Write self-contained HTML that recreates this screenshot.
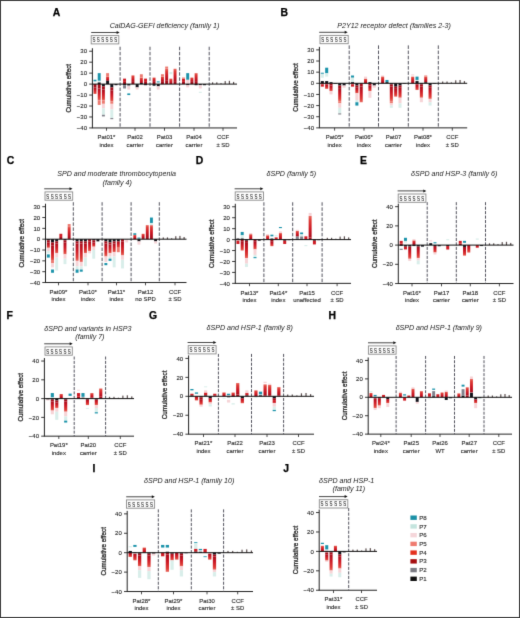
<!DOCTYPE html>
<html><head><meta charset="utf-8"><style>
html,body{margin:0;padding:0;background:#fff;width:520px;height:618px;overflow:hidden;}
svg{position:absolute;left:0;top:0;font-family:"Liberation Sans", sans-serif;will-change:transform;}
</style></head><body>
<svg width="520" height="618" viewBox="0 0 520 618">
<defs>
<filter id="soft" x="0" y="0" width="520" height="618" filterUnits="userSpaceOnUse" color-interpolation-filters="sRGB"><feConvolveMatrix order="3" kernelMatrix="0.01 0.08 0.01 0.08 0.64 0.08 0.01 0.08 0.01" edgeMode="duplicate"/></filter>
<linearGradient id="rdn" x1="0" y1="0" x2="0" y2="1"><stop offset="0" stop-color="#aa0d1c"/><stop offset="0.4" stop-color="#cc1824"/><stop offset="0.8" stop-color="#dd3c36"/><stop offset="1" stop-color="#e96a62"/></linearGradient>
<linearGradient id="rup" x1="0" y1="1" x2="0" y2="0"><stop offset="0" stop-color="#aa0d1c"/><stop offset="0.4" stop-color="#cc1824"/><stop offset="0.8" stop-color="#dd3c36"/><stop offset="1" stop-color="#e96a62"/></linearGradient>
</defs>
<g filter="url(#soft)">
<rect x="0" y="0" width="520" height="618" fill="#fff"/>
<text x="52.80" y="16.20" font-size="10.4" text-anchor="start" fill="#000" style="font-weight:bold;" stroke="#000" stroke-width="0.25">A</text>
<text x="164.50" y="28.00" font-size="7.1" text-anchor="middle" fill="#222" style="font-style:italic;" >CalDAG-GEFI deficiency (family 1)</text>
<line x1="91.2" y1="32.5" x2="117.1" y2="32.5" stroke="#333" stroke-width="0.9"/>
<path d="M116.6,31.0 L119.6,32.5 L116.6,34.0 Z" fill="#111"/>
<rect x="91.2" y="35.60" width="27.60" height="8.30" fill="#fff" stroke="#8a8a8a" stroke-width="0.9"/>
<text transform="translate(92.50,42.20) scale(0.65,1)" font-size="6.8" fill="#333" stroke="#333" stroke-width="0.15">S</text>
<text transform="translate(96.83,42.20) scale(0.65,1)" font-size="6.8" fill="#333" stroke="#333" stroke-width="0.15">S</text>
<text transform="translate(101.16,42.20) scale(0.65,1)" font-size="6.8" fill="#333" stroke="#333" stroke-width="0.15">S</text>
<text transform="translate(105.49,42.20) scale(0.65,1)" font-size="6.8" fill="#333" stroke="#333" stroke-width="0.15">S</text>
<text transform="translate(109.82,42.20) scale(0.65,1)" font-size="6.8" fill="#333" stroke="#333" stroke-width="0.15">S</text>
<text transform="translate(114.15,42.20) scale(0.65,1)" font-size="6.8" fill="#333" stroke="#333" stroke-width="0.15">S</text>
<line x1="92.4" y1="48.22" x2="92.4" y2="127.94" stroke="#222" stroke-width="1"/>
<line x1="89.2" y1="51.22" x2="92.4" y2="51.22" stroke="#222" stroke-width="0.9"/>
<text x="87.00" y="53.37" font-size="6.0" text-anchor="end" fill="#222" style="" stroke="#222" stroke-width="0.1">30</text>
<line x1="89.2" y1="62.18" x2="92.4" y2="62.18" stroke="#222" stroke-width="0.9"/>
<text x="87.00" y="64.33" font-size="6.0" text-anchor="end" fill="#222" style="" stroke="#222" stroke-width="0.1">20</text>
<line x1="89.2" y1="73.14" x2="92.4" y2="73.14" stroke="#222" stroke-width="0.9"/>
<text x="87.00" y="75.29" font-size="6.0" text-anchor="end" fill="#222" style="" stroke="#222" stroke-width="0.1">10</text>
<line x1="89.2" y1="84.10" x2="92.4" y2="84.10" stroke="#222" stroke-width="0.9"/>
<text x="87.00" y="86.25" font-size="6.0" text-anchor="end" fill="#222" style="" stroke="#222" stroke-width="0.1">0</text>
<line x1="89.2" y1="95.06" x2="92.4" y2="95.06" stroke="#222" stroke-width="0.9"/>
<text x="87.00" y="97.21" font-size="6.0" text-anchor="end" fill="#222" style="" stroke="#222" stroke-width="0.1">−10</text>
<line x1="89.2" y1="106.02" x2="92.4" y2="106.02" stroke="#222" stroke-width="0.9"/>
<text x="87.00" y="108.17" font-size="6.0" text-anchor="end" fill="#222" style="" stroke="#222" stroke-width="0.1">−20</text>
<line x1="89.2" y1="116.98" x2="92.4" y2="116.98" stroke="#222" stroke-width="0.9"/>
<text x="87.00" y="119.13" font-size="6.0" text-anchor="end" fill="#222" style="" stroke="#222" stroke-width="0.1">−30</text>
<line x1="89.2" y1="127.94" x2="92.4" y2="127.94" stroke="#222" stroke-width="0.9"/>
<text x="87.00" y="130.09" font-size="6.0" text-anchor="end" fill="#222" style="" stroke="#222" stroke-width="0.1">−40</text>
<text x="0" y="0" font-size="7.2" text-anchor="middle" fill="#222" stroke="#222" stroke-width="0.28" transform="translate(70.90,88.18) rotate(-90)" textLength="48.6" lengthAdjust="spacingAndGlyphs">Cumulative effect</text>
<line x1="91.9" y1="127.94" x2="237" y2="127.94" stroke="#222" stroke-width="1"/>
<line x1="120.1" y1="46.72" x2="120.1" y2="127.94" stroke="#4a4a55" stroke-width="0.95" stroke-dasharray="3.51,1.59"/>
<line x1="150" y1="46.72" x2="150" y2="127.94" stroke="#4a4a55" stroke-width="0.95" stroke-dasharray="3.51,1.59"/>
<line x1="179.6" y1="46.72" x2="179.6" y2="127.94" stroke="#4a4a55" stroke-width="0.95" stroke-dasharray="3.51,1.59"/>
<line x1="209.2" y1="46.72" x2="209.2" y2="127.94" stroke="#4a4a55" stroke-width="0.95" stroke-dasharray="3.51,1.59"/>
<line x1="106.5" y1="127.94" x2="106.5" y2="130.74" stroke="#222" stroke-width="0.8"/>
<text x="106.50" y="139.14" font-size="5.95" text-anchor="middle" fill="#2a2a2a" style="" stroke="#2a2a2a" stroke-width="0.12">Pat01*</text>
<text x="106.50" y="146.74" font-size="5.95" text-anchor="middle" fill="#2a2a2a" style="" stroke="#2a2a2a" stroke-width="0.12">index</text>
<line x1="135" y1="127.94" x2="135" y2="130.74" stroke="#222" stroke-width="0.8"/>
<text x="135.00" y="139.14" font-size="5.95" text-anchor="middle" fill="#2a2a2a" style="" stroke="#2a2a2a" stroke-width="0.12">Pat02</text>
<text x="135.00" y="146.74" font-size="5.95" text-anchor="middle" fill="#2a2a2a" style="" stroke="#2a2a2a" stroke-width="0.12">carrier</text>
<line x1="164.5" y1="127.94" x2="164.5" y2="130.74" stroke="#222" stroke-width="0.8"/>
<text x="164.50" y="139.14" font-size="5.95" text-anchor="middle" fill="#2a2a2a" style="" stroke="#2a2a2a" stroke-width="0.12">Pat03</text>
<text x="164.50" y="146.74" font-size="5.95" text-anchor="middle" fill="#2a2a2a" style="" stroke="#2a2a2a" stroke-width="0.12">carrier</text>
<line x1="194" y1="127.94" x2="194" y2="130.74" stroke="#222" stroke-width="0.8"/>
<text x="194.00" y="139.14" font-size="5.95" text-anchor="middle" fill="#2a2a2a" style="" stroke="#2a2a2a" stroke-width="0.12">Pat04</text>
<text x="194.00" y="146.74" font-size="5.95" text-anchor="middle" fill="#2a2a2a" style="" stroke="#2a2a2a" stroke-width="0.12">carrier</text>
<line x1="223" y1="127.94" x2="223" y2="130.74" stroke="#222" stroke-width="0.8"/>
<text x="223.00" y="139.14" font-size="5.95" text-anchor="middle" fill="#2a2a2a" style="" stroke="#2a2a2a" stroke-width="0.12">CCF</text>
<text x="223.00" y="146.74" font-size="5.95" text-anchor="middle" fill="#2a2a2a" style="" stroke="#2a2a2a" stroke-width="0.12">± SD</text>
<rect x="93.53" y="79.72" width="2.94" height="1.64" fill="#1b93aa"/>
<rect x="93.53" y="84.10" width="2.94" height="3.29" fill="#a50d1a"/>
<rect x="93.53" y="87.39" width="2.94" height="6.58" fill="url(#rdn)"/>
<rect x="97.73" y="73.14" width="2.94" height="7.67" fill="#1b93aa"/>
<rect x="97.73" y="80.81" width="2.94" height="1.64" fill="#d9eeea"/>
<rect x="97.73" y="82.46" width="2.94" height="1.64" fill="#12121a"/>
<rect x="97.73" y="84.10" width="2.94" height="4.38" fill="#a50d1a"/>
<rect x="97.73" y="88.48" width="2.94" height="12.06" fill="url(#rdn)"/>
<rect x="97.73" y="100.54" width="2.94" height="4.38" fill="#ec7a70"/>
<rect x="101.93" y="84.10" width="2.94" height="2.19" fill="#12121a"/>
<rect x="101.93" y="86.29" width="2.94" height="3.29" fill="#a50d1a"/>
<rect x="101.93" y="89.58" width="2.94" height="10.96" fill="url(#rdn)"/>
<rect x="101.93" y="100.54" width="2.94" height="3.29" fill="#ec7a70"/>
<rect x="101.93" y="103.83" width="2.94" height="4.38" fill="#f6d4d7"/>
<rect x="101.93" y="108.21" width="2.94" height="6.58" fill="#d9eeea"/>
<rect x="101.93" y="114.79" width="2.94" height="1.64" fill="#80808a"/>
<rect x="106.13" y="73.14" width="2.94" height="3.29" fill="#ec7a70"/>
<rect x="106.13" y="76.43" width="2.94" height="4.38" fill="url(#rup)"/>
<rect x="106.13" y="80.81" width="2.94" height="3.29" fill="#12121a"/>
<rect x="110.33" y="84.10" width="2.94" height="3.29" fill="#12121a"/>
<rect x="110.33" y="87.39" width="2.94" height="3.29" fill="#a50d1a"/>
<rect x="110.33" y="90.68" width="2.94" height="10.96" fill="url(#rdn)"/>
<rect x="110.33" y="101.64" width="2.94" height="2.19" fill="#ec7a70"/>
<rect x="110.33" y="103.83" width="2.94" height="5.48" fill="#f6d4d7"/>
<rect x="110.33" y="109.31" width="2.94" height="8.77" fill="#d9eeea"/>
<rect x="110.33" y="118.08" width="2.94" height="1.10" fill="#80808a"/>
<rect x="114.53" y="84.10" width="2.94" height="1.10" fill="#12121a"/>
<rect x="123.08" y="81.91" width="2.94" height="2.19" fill="#a50d1a"/>
<rect x="123.08" y="78.62" width="2.94" height="3.29" fill="#cf1b24"/>
<rect x="123.08" y="84.10" width="2.94" height="1.10" fill="#12121a"/>
<rect x="123.08" y="85.20" width="2.94" height="3.29" fill="#80808a"/>
<rect x="127.28" y="84.10" width="2.94" height="1.10" fill="#12121a"/>
<rect x="127.28" y="85.20" width="2.94" height="1.10" fill="#80808a"/>
<rect x="127.28" y="86.29" width="2.94" height="3.29" fill="#f6d4d7"/>
<rect x="127.28" y="93.42" width="2.94" height="1.64" fill="#1b93aa"/>
<rect x="131.48" y="81.91" width="2.94" height="2.19" fill="#a50d1a"/>
<rect x="131.48" y="75.33" width="2.94" height="6.58" fill="url(#rup)"/>
<rect x="135.68" y="84.10" width="2.94" height="3.29" fill="#12121a"/>
<rect x="135.68" y="87.39" width="2.94" height="2.19" fill="#f6d4d7"/>
<rect x="139.88" y="83.00" width="2.94" height="1.10" fill="#12121a"/>
<rect x="139.88" y="77.52" width="2.94" height="5.48" fill="url(#rup)"/>
<rect x="139.88" y="74.24" width="2.94" height="3.29" fill="#ec7a70"/>
<rect x="144.08" y="81.91" width="2.94" height="2.19" fill="#a50d1a"/>
<rect x="144.08" y="78.62" width="2.94" height="3.29" fill="#cf1b24"/>
<rect x="144.08" y="84.10" width="2.94" height="1.10" fill="#12121a"/>
<rect x="152.58" y="81.91" width="2.94" height="2.19" fill="#a50d1a"/>
<rect x="152.58" y="77.52" width="2.94" height="4.38" fill="url(#rup)"/>
<rect x="152.58" y="84.10" width="2.94" height="1.64" fill="#12121a"/>
<rect x="156.78" y="81.36" width="2.94" height="1.10" fill="#1b93aa"/>
<rect x="156.78" y="84.10" width="2.94" height="2.19" fill="#12121a"/>
<rect x="156.78" y="86.29" width="2.94" height="3.29" fill="#f6d4d7"/>
<rect x="160.98" y="81.91" width="2.94" height="2.19" fill="#a50d1a"/>
<rect x="160.98" y="76.43" width="2.94" height="5.48" fill="url(#rup)"/>
<rect x="160.98" y="74.24" width="2.94" height="2.19" fill="#ec7a70"/>
<rect x="165.18" y="80.81" width="2.94" height="3.29" fill="#a50d1a"/>
<rect x="165.18" y="68.76" width="2.94" height="12.06" fill="url(#rup)"/>
<rect x="165.18" y="66.56" width="2.94" height="2.19" fill="#ec7a70"/>
<rect x="169.38" y="78.62" width="2.94" height="5.48" fill="url(#rup)"/>
<rect x="169.38" y="72.04" width="2.94" height="2.19" fill="#d9eeea"/>
<rect x="173.58" y="81.91" width="2.94" height="2.19" fill="#a50d1a"/>
<rect x="173.58" y="68.76" width="2.94" height="13.15" fill="url(#rup)"/>
<rect x="182.03" y="81.91" width="2.94" height="2.19" fill="#a50d1a"/>
<rect x="182.03" y="78.62" width="2.94" height="3.29" fill="#cf1b24"/>
<rect x="182.03" y="77.52" width="2.94" height="1.10" fill="#ec7a70"/>
<rect x="186.23" y="79.72" width="2.94" height="4.38" fill="#f6d4d7"/>
<rect x="186.23" y="73.14" width="2.94" height="6.58" fill="#1b93aa"/>
<rect x="186.23" y="84.10" width="2.94" height="1.10" fill="#12121a"/>
<rect x="186.23" y="85.20" width="2.94" height="2.19" fill="#f6d4d7"/>
<rect x="190.43" y="81.91" width="2.94" height="2.19" fill="#a50d1a"/>
<rect x="190.43" y="77.52" width="2.94" height="4.38" fill="url(#rup)"/>
<rect x="194.63" y="81.91" width="2.94" height="2.19" fill="#a50d1a"/>
<rect x="194.63" y="73.14" width="2.94" height="8.77" fill="url(#rup)"/>
<rect x="194.63" y="84.10" width="2.94" height="1.10" fill="#12121a"/>
<rect x="198.83" y="84.10" width="2.94" height="1.10" fill="#12121a"/>
<rect x="198.83" y="85.20" width="2.94" height="3.29" fill="#f6d4d7"/>
<rect x="198.83" y="91.77" width="2.94" height="1.10" fill="#d9eeea"/>
<rect x="203.03" y="84.10" width="2.94" height="1.10" fill="#12121a"/>
<rect x="212.00" y="82.30" width="1.2" height="1.80" fill="#5e5050"/>
<rect x="216.20" y="82.30" width="1.2" height="1.80" fill="#5e5050"/>
<rect x="220.40" y="83.20" width="1.2" height="0.90" fill="#5e5050"/>
<rect x="224.60" y="81.10" width="1.2" height="3.00" fill="#5e5050"/>
<rect x="228.80" y="80.80" width="1.2" height="3.30" fill="#5e5050"/>
<rect x="233.00" y="81.90" width="1.2" height="2.20" fill="#5e5050"/>
<line x1="92.4" y1="84.10" x2="237" y2="84.10" stroke="#111" stroke-width="1"/>
<text x="280.60" y="16.00" font-size="10.4" text-anchor="start" fill="#000" style="font-weight:bold;" stroke="#000" stroke-width="0.25">B</text>
<text x="394.00" y="28.00" font-size="7.1" text-anchor="middle" fill="#222" style="font-style:italic;" >P2Y12 receptor defect (families 2-3)</text>
<line x1="319.2" y1="32.3" x2="345.2" y2="32.3" stroke="#333" stroke-width="0.9"/>
<path d="M344.7,30.799999999999997 L347.7,32.3 L344.7,33.8 Z" fill="#111"/>
<rect x="320" y="35.40" width="28.20" height="8.30" fill="#fff" stroke="#8a8a8a" stroke-width="0.9"/>
<text transform="translate(321.30,42.00) scale(0.65,1)" font-size="6.8" fill="#333" stroke="#333" stroke-width="0.15">S</text>
<text transform="translate(325.75,42.00) scale(0.65,1)" font-size="6.8" fill="#333" stroke="#333" stroke-width="0.15">S</text>
<text transform="translate(330.20,42.00) scale(0.65,1)" font-size="6.8" fill="#333" stroke="#333" stroke-width="0.15">S</text>
<text transform="translate(334.65,42.00) scale(0.65,1)" font-size="6.8" fill="#333" stroke="#333" stroke-width="0.15">S</text>
<text transform="translate(339.10,42.00) scale(0.65,1)" font-size="6.8" fill="#333" stroke="#333" stroke-width="0.15">S</text>
<text transform="translate(343.55,42.00) scale(0.65,1)" font-size="6.8" fill="#333" stroke="#333" stroke-width="0.15">S</text>
<line x1="319.4" y1="46.88" x2="319.4" y2="127.86" stroke="#222" stroke-width="1"/>
<line x1="316.2" y1="49.88" x2="319.4" y2="49.88" stroke="#222" stroke-width="0.9"/>
<text x="314.00" y="52.03" font-size="6.0" text-anchor="end" fill="#222" style="" stroke="#222" stroke-width="0.1">30</text>
<line x1="316.2" y1="61.02" x2="319.4" y2="61.02" stroke="#222" stroke-width="0.9"/>
<text x="314.00" y="63.17" font-size="6.0" text-anchor="end" fill="#222" style="" stroke="#222" stroke-width="0.1">20</text>
<line x1="316.2" y1="72.16" x2="319.4" y2="72.16" stroke="#222" stroke-width="0.9"/>
<text x="314.00" y="74.31" font-size="6.0" text-anchor="end" fill="#222" style="" stroke="#222" stroke-width="0.1">10</text>
<line x1="316.2" y1="83.30" x2="319.4" y2="83.30" stroke="#222" stroke-width="0.9"/>
<text x="314.00" y="85.45" font-size="6.0" text-anchor="end" fill="#222" style="" stroke="#222" stroke-width="0.1">0</text>
<line x1="316.2" y1="94.44" x2="319.4" y2="94.44" stroke="#222" stroke-width="0.9"/>
<text x="314.00" y="96.59" font-size="6.0" text-anchor="end" fill="#222" style="" stroke="#222" stroke-width="0.1">−10</text>
<line x1="316.2" y1="105.58" x2="319.4" y2="105.58" stroke="#222" stroke-width="0.9"/>
<text x="314.00" y="107.73" font-size="6.0" text-anchor="end" fill="#222" style="" stroke="#222" stroke-width="0.1">−20</text>
<line x1="316.2" y1="116.72" x2="319.4" y2="116.72" stroke="#222" stroke-width="0.9"/>
<text x="314.00" y="118.87" font-size="6.0" text-anchor="end" fill="#222" style="" stroke="#222" stroke-width="0.1">−30</text>
<line x1="316.2" y1="127.86" x2="319.4" y2="127.86" stroke="#222" stroke-width="0.9"/>
<text x="314.00" y="130.01" font-size="6.0" text-anchor="end" fill="#222" style="" stroke="#222" stroke-width="0.1">−40</text>
<text x="0" y="0" font-size="7.2" text-anchor="middle" fill="#222" stroke="#222" stroke-width="0.28" transform="translate(297.90,87.47) rotate(-90)" textLength="48.6" lengthAdjust="spacingAndGlyphs">Cumulative effect</text>
<line x1="318.9" y1="127.86" x2="467.2" y2="127.86" stroke="#222" stroke-width="1"/>
<line x1="349.2" y1="45.38" x2="349.2" y2="127.86" stroke="#4a4a55" stroke-width="0.95" stroke-dasharray="3.56,1.62"/>
<line x1="378.5" y1="45.38" x2="378.5" y2="127.86" stroke="#4a4a55" stroke-width="0.95" stroke-dasharray="3.56,1.62"/>
<line x1="408.3" y1="45.38" x2="408.3" y2="127.86" stroke="#4a4a55" stroke-width="0.95" stroke-dasharray="3.56,1.62"/>
<line x1="438.3" y1="45.38" x2="438.3" y2="127.86" stroke="#4a4a55" stroke-width="0.95" stroke-dasharray="3.56,1.62"/>
<line x1="334.6" y1="127.86" x2="334.6" y2="130.66" stroke="#222" stroke-width="0.8"/>
<text x="334.60" y="139.06" font-size="5.95" text-anchor="middle" fill="#2a2a2a" style="" stroke="#2a2a2a" stroke-width="0.12">Pat05*</text>
<text x="334.60" y="146.66" font-size="5.95" text-anchor="middle" fill="#2a2a2a" style="" stroke="#2a2a2a" stroke-width="0.12">index</text>
<line x1="364" y1="127.86" x2="364" y2="130.66" stroke="#222" stroke-width="0.8"/>
<text x="364.00" y="139.06" font-size="5.95" text-anchor="middle" fill="#2a2a2a" style="" stroke="#2a2a2a" stroke-width="0.12">Pat06*</text>
<text x="364.00" y="146.66" font-size="5.95" text-anchor="middle" fill="#2a2a2a" style="" stroke="#2a2a2a" stroke-width="0.12">index</text>
<line x1="393.5" y1="127.86" x2="393.5" y2="130.66" stroke="#222" stroke-width="0.8"/>
<text x="393.50" y="139.06" font-size="5.95" text-anchor="middle" fill="#2a2a2a" style="" stroke="#2a2a2a" stroke-width="0.12">Pat07</text>
<text x="393.50" y="146.66" font-size="5.95" text-anchor="middle" fill="#2a2a2a" style="" stroke="#2a2a2a" stroke-width="0.12">carrier</text>
<line x1="423" y1="127.86" x2="423" y2="130.66" stroke="#222" stroke-width="0.8"/>
<text x="423.00" y="139.06" font-size="5.95" text-anchor="middle" fill="#2a2a2a" style="" stroke="#2a2a2a" stroke-width="0.12">Pat08*</text>
<text x="423.00" y="146.66" font-size="5.95" text-anchor="middle" fill="#2a2a2a" style="" stroke="#2a2a2a" stroke-width="0.12">index</text>
<line x1="452.3" y1="127.86" x2="452.3" y2="130.66" stroke="#222" stroke-width="0.8"/>
<text x="452.30" y="139.06" font-size="5.95" text-anchor="middle" fill="#2a2a2a" style="" stroke="#2a2a2a" stroke-width="0.12">CCF</text>
<text x="452.30" y="146.66" font-size="5.95" text-anchor="middle" fill="#2a2a2a" style="" stroke="#2a2a2a" stroke-width="0.12">± SD</text>
<rect x="320.81" y="72.72" width="3.04" height="1.11" fill="#1b93aa"/>
<rect x="320.81" y="73.83" width="3.04" height="3.90" fill="#d9eeea"/>
<rect x="320.81" y="81.07" width="3.04" height="2.23" fill="#12121a"/>
<rect x="320.81" y="83.30" width="3.04" height="1.11" fill="#a50d1a"/>
<rect x="320.81" y="84.41" width="3.04" height="2.23" fill="#cf1b24"/>
<rect x="325.16" y="67.70" width="3.04" height="5.57" fill="#1b93aa"/>
<rect x="325.16" y="73.27" width="3.04" height="3.34" fill="#d9eeea"/>
<rect x="325.16" y="81.07" width="3.04" height="2.23" fill="#12121a"/>
<rect x="325.16" y="83.30" width="3.04" height="1.11" fill="#a50d1a"/>
<rect x="325.16" y="84.41" width="3.04" height="4.46" fill="url(#rdn)"/>
<rect x="329.50" y="82.19" width="3.04" height="1.11" fill="#12121a"/>
<rect x="329.50" y="83.30" width="3.04" height="2.23" fill="#a50d1a"/>
<rect x="329.50" y="85.53" width="3.04" height="5.57" fill="url(#rdn)"/>
<rect x="329.50" y="91.10" width="3.04" height="3.34" fill="#f6d4d7"/>
<rect x="333.86" y="83.30" width="3.04" height="0.56" fill="#12121a"/>
<rect x="338.20" y="83.30" width="3.04" height="2.23" fill="#12121a"/>
<rect x="338.20" y="85.53" width="3.04" height="3.34" fill="#a50d1a"/>
<rect x="338.20" y="88.87" width="3.04" height="12.25" fill="url(#rdn)"/>
<rect x="338.20" y="101.12" width="3.04" height="2.23" fill="#ec7a70"/>
<rect x="338.20" y="103.35" width="3.04" height="4.46" fill="#f6d4d7"/>
<rect x="338.20" y="107.81" width="3.04" height="5.57" fill="#d9eeea"/>
<rect x="338.20" y="113.38" width="3.04" height="1.11" fill="#80808a"/>
<rect x="342.56" y="83.30" width="3.04" height="2.23" fill="#12121a"/>
<rect x="342.56" y="85.53" width="3.04" height="2.23" fill="#f6d4d7"/>
<rect x="351.00" y="75.50" width="3.04" height="2.23" fill="#1b93aa"/>
<rect x="351.00" y="77.73" width="3.04" height="4.46" fill="#d9eeea"/>
<rect x="351.00" y="82.19" width="3.04" height="1.11" fill="#12121a"/>
<rect x="351.00" y="83.30" width="3.04" height="1.11" fill="#a50d1a"/>
<rect x="351.00" y="84.41" width="3.04" height="2.23" fill="#cf1b24"/>
<rect x="355.36" y="83.30" width="3.04" height="2.23" fill="#12121a"/>
<rect x="355.36" y="85.53" width="3.04" height="2.23" fill="#a50d1a"/>
<rect x="355.36" y="87.76" width="3.04" height="5.57" fill="url(#rdn)"/>
<rect x="355.36" y="93.33" width="3.04" height="6.68" fill="#f6d4d7"/>
<rect x="355.36" y="100.01" width="3.04" height="2.23" fill="#d9eeea"/>
<rect x="355.36" y="102.24" width="3.04" height="3.34" fill="#1b93aa"/>
<rect x="359.70" y="83.30" width="3.04" height="3.34" fill="#a50d1a"/>
<rect x="359.70" y="86.64" width="3.04" height="15.60" fill="url(#rdn)"/>
<rect x="364.06" y="76.62" width="3.04" height="2.23" fill="#f6d4d7"/>
<rect x="364.06" y="78.84" width="3.04" height="4.46" fill="url(#rup)"/>
<rect x="368.40" y="82.19" width="3.04" height="1.11" fill="#12121a"/>
<rect x="368.40" y="83.30" width="3.04" height="2.23" fill="#a50d1a"/>
<rect x="368.40" y="85.53" width="3.04" height="5.57" fill="url(#rdn)"/>
<rect x="368.40" y="91.10" width="3.04" height="6.68" fill="#f6d4d7"/>
<rect x="372.75" y="83.30" width="3.04" height="2.23" fill="#12121a"/>
<rect x="372.75" y="85.53" width="3.04" height="2.23" fill="#f6d4d7"/>
<rect x="381.11" y="75.50" width="3.04" height="1.11" fill="#f6d4d7"/>
<rect x="381.11" y="76.62" width="3.04" height="6.68" fill="url(#rup)"/>
<rect x="385.46" y="79.96" width="3.04" height="2.23" fill="#1b93aa"/>
<rect x="385.46" y="82.19" width="3.04" height="1.11" fill="#12121a"/>
<rect x="389.81" y="83.30" width="3.04" height="1.11" fill="#12121a"/>
<rect x="389.81" y="84.41" width="3.04" height="2.23" fill="#a50d1a"/>
<rect x="389.81" y="86.64" width="3.04" height="14.48" fill="url(#rdn)"/>
<rect x="389.81" y="101.12" width="3.04" height="2.23" fill="#ec7a70"/>
<rect x="389.81" y="103.35" width="3.04" height="2.23" fill="#f6d4d7"/>
<rect x="389.81" y="105.58" width="3.04" height="2.23" fill="#d9eeea"/>
<rect x="394.16" y="83.30" width="3.04" height="3.34" fill="#12121a"/>
<rect x="394.16" y="86.64" width="3.04" height="2.23" fill="#a50d1a"/>
<rect x="394.16" y="88.87" width="3.04" height="7.80" fill="url(#rdn)"/>
<rect x="398.50" y="83.30" width="3.04" height="2.23" fill="#12121a"/>
<rect x="398.50" y="85.53" width="3.04" height="2.23" fill="#a50d1a"/>
<rect x="398.50" y="87.76" width="3.04" height="10.03" fill="url(#rdn)"/>
<rect x="398.50" y="97.78" width="3.04" height="5.57" fill="#f6d4d7"/>
<rect x="398.50" y="103.35" width="3.04" height="4.46" fill="#d9eeea"/>
<rect x="402.86" y="83.30" width="3.04" height="0.56" fill="#12121a"/>
<rect x="411.16" y="74.39" width="3.04" height="1.11" fill="#f6d4d7"/>
<rect x="411.16" y="76.62" width="3.04" height="6.68" fill="url(#rup)"/>
<rect x="415.51" y="76.62" width="3.04" height="3.34" fill="#1b93aa"/>
<rect x="415.51" y="79.96" width="3.04" height="1.11" fill="#d9eeea"/>
<rect x="415.51" y="81.07" width="3.04" height="2.23" fill="#12121a"/>
<rect x="415.51" y="83.30" width="3.04" height="1.11" fill="#a50d1a"/>
<rect x="415.51" y="84.41" width="3.04" height="5.57" fill="url(#rdn)"/>
<rect x="419.86" y="83.30" width="3.04" height="1.11" fill="#12121a"/>
<rect x="419.86" y="84.41" width="3.04" height="2.23" fill="#a50d1a"/>
<rect x="419.86" y="86.64" width="3.04" height="11.14" fill="url(#rdn)"/>
<rect x="419.86" y="97.78" width="3.04" height="4.46" fill="#f6d4d7"/>
<rect x="424.21" y="82.19" width="3.04" height="1.11" fill="#12121a"/>
<rect x="424.21" y="76.62" width="3.04" height="5.57" fill="url(#rup)"/>
<rect x="424.21" y="75.50" width="3.04" height="1.11" fill="#ec7a70"/>
<rect x="428.56" y="83.30" width="3.04" height="2.23" fill="#12121a"/>
<rect x="428.56" y="85.53" width="3.04" height="2.23" fill="#a50d1a"/>
<rect x="428.56" y="87.76" width="3.04" height="11.14" fill="url(#rdn)"/>
<rect x="428.56" y="98.90" width="3.04" height="3.34" fill="#f6d4d7"/>
<rect x="428.56" y="102.24" width="3.04" height="3.34" fill="#d9eeea"/>
<rect x="432.91" y="83.30" width="3.04" height="0.56" fill="#12121a"/>
<rect x="442.07" y="81.50" width="1.2" height="1.80" fill="#5e5050"/>
<rect x="446.43" y="81.50" width="1.2" height="1.80" fill="#5e5050"/>
<rect x="450.77" y="82.40" width="1.2" height="0.90" fill="#5e5050"/>
<rect x="455.12" y="80.30" width="1.2" height="3.00" fill="#5e5050"/>
<rect x="459.47" y="80.00" width="1.2" height="3.30" fill="#5e5050"/>
<rect x="463.82" y="81.10" width="1.2" height="2.20" fill="#5e5050"/>
<line x1="319.4" y1="83.30" x2="467.2" y2="83.30" stroke="#111" stroke-width="1"/>
<text x="6.70" y="163.50" font-size="10.4" text-anchor="start" fill="#000" style="font-weight:bold;" stroke="#000" stroke-width="0.25">C</text>
<text x="116.60" y="175.80" font-size="7.1" text-anchor="middle" fill="#222" style="font-style:italic;" >SPD and moderate thrombocytopenia</text>
<text x="117.20" y="185.00" font-size="7.1" text-anchor="middle" fill="#222" style="font-style:italic;" >(family 4)</text>
<line x1="44.2" y1="188.8" x2="70.0" y2="188.8" stroke="#333" stroke-width="0.9"/>
<path d="M69.5,187.3 L72.5,188.8 L69.5,190.3 Z" fill="#111"/>
<rect x="45" y="191.90" width="27.70" height="8.30" fill="#fff" stroke="#8a8a8a" stroke-width="0.9"/>
<text transform="translate(46.30,198.50) scale(0.65,1)" font-size="6.8" fill="#333" stroke="#333" stroke-width="0.15">S</text>
<text transform="translate(50.65,198.50) scale(0.65,1)" font-size="6.8" fill="#333" stroke="#333" stroke-width="0.15">S</text>
<text transform="translate(55.00,198.50) scale(0.65,1)" font-size="6.8" fill="#333" stroke="#333" stroke-width="0.15">S</text>
<text transform="translate(59.35,198.50) scale(0.65,1)" font-size="6.8" fill="#333" stroke="#333" stroke-width="0.15">S</text>
<text transform="translate(63.70,198.50) scale(0.65,1)" font-size="6.8" fill="#333" stroke="#333" stroke-width="0.15">S</text>
<text transform="translate(68.05,198.50) scale(0.65,1)" font-size="6.8" fill="#333" stroke="#333" stroke-width="0.15">S</text>
<line x1="45.5" y1="203.71" x2="45.5" y2="282.52" stroke="#222" stroke-width="1"/>
<line x1="42.3" y1="206.71" x2="45.5" y2="206.71" stroke="#222" stroke-width="0.9"/>
<text x="40.10" y="208.86" font-size="6.0" text-anchor="end" fill="#222" style="" stroke="#222" stroke-width="0.1">30</text>
<line x1="42.3" y1="217.54" x2="45.5" y2="217.54" stroke="#222" stroke-width="0.9"/>
<text x="40.10" y="219.69" font-size="6.0" text-anchor="end" fill="#222" style="" stroke="#222" stroke-width="0.1">20</text>
<line x1="42.3" y1="228.37" x2="45.5" y2="228.37" stroke="#222" stroke-width="0.9"/>
<text x="40.10" y="230.52" font-size="6.0" text-anchor="end" fill="#222" style="" stroke="#222" stroke-width="0.1">10</text>
<line x1="42.3" y1="239.20" x2="45.5" y2="239.20" stroke="#222" stroke-width="0.9"/>
<text x="40.10" y="241.35" font-size="6.0" text-anchor="end" fill="#222" style="" stroke="#222" stroke-width="0.1">0</text>
<line x1="42.3" y1="250.03" x2="45.5" y2="250.03" stroke="#222" stroke-width="0.9"/>
<text x="40.10" y="252.18" font-size="6.0" text-anchor="end" fill="#222" style="" stroke="#222" stroke-width="0.1">−10</text>
<line x1="42.3" y1="260.86" x2="45.5" y2="260.86" stroke="#222" stroke-width="0.9"/>
<text x="40.10" y="263.01" font-size="6.0" text-anchor="end" fill="#222" style="" stroke="#222" stroke-width="0.1">−20</text>
<line x1="42.3" y1="271.69" x2="45.5" y2="271.69" stroke="#222" stroke-width="0.9"/>
<text x="40.10" y="273.84" font-size="6.0" text-anchor="end" fill="#222" style="" stroke="#222" stroke-width="0.1">−30</text>
<line x1="42.3" y1="282.52" x2="45.5" y2="282.52" stroke="#222" stroke-width="0.9"/>
<text x="40.10" y="284.67" font-size="6.0" text-anchor="end" fill="#222" style="" stroke="#222" stroke-width="0.1">−40</text>
<text x="0" y="0" font-size="7.2" text-anchor="middle" fill="#222" stroke="#222" stroke-width="0.28" transform="translate(24.00,243.21) rotate(-90)" textLength="48.6" lengthAdjust="spacingAndGlyphs">Cumulative effect</text>
<line x1="45.0" y1="282.52" x2="186.5" y2="282.52" stroke="#222" stroke-width="1"/>
<line x1="73.3" y1="202.21" x2="73.3" y2="282.52" stroke="#4a4a55" stroke-width="0.95" stroke-dasharray="3.47,1.57"/>
<line x1="102.1" y1="202.21" x2="102.1" y2="282.52" stroke="#4a4a55" stroke-width="0.95" stroke-dasharray="3.47,1.57"/>
<line x1="131.1" y1="202.21" x2="131.1" y2="282.52" stroke="#4a4a55" stroke-width="0.95" stroke-dasharray="3.47,1.57"/>
<line x1="159.3" y1="202.21" x2="159.3" y2="282.52" stroke="#4a4a55" stroke-width="0.95" stroke-dasharray="3.47,1.57"/>
<line x1="58.5" y1="282.52" x2="58.5" y2="285.32" stroke="#222" stroke-width="0.8"/>
<text x="58.50" y="293.72" font-size="5.95" text-anchor="middle" fill="#2a2a2a" style="" stroke="#2a2a2a" stroke-width="0.12">Pat09*</text>
<text x="58.50" y="301.32" font-size="5.95" text-anchor="middle" fill="#2a2a2a" style="" stroke="#2a2a2a" stroke-width="0.12">index</text>
<line x1="88" y1="282.52" x2="88" y2="285.32" stroke="#222" stroke-width="0.8"/>
<text x="88.00" y="293.72" font-size="5.95" text-anchor="middle" fill="#2a2a2a" style="" stroke="#2a2a2a" stroke-width="0.12">Pat10*</text>
<text x="88.00" y="301.32" font-size="5.95" text-anchor="middle" fill="#2a2a2a" style="" stroke="#2a2a2a" stroke-width="0.12">index</text>
<line x1="116.5" y1="282.52" x2="116.5" y2="285.32" stroke="#222" stroke-width="0.8"/>
<text x="116.50" y="293.72" font-size="5.95" text-anchor="middle" fill="#2a2a2a" style="" stroke="#2a2a2a" stroke-width="0.12">Pat11*</text>
<text x="116.50" y="301.32" font-size="5.95" text-anchor="middle" fill="#2a2a2a" style="" stroke="#2a2a2a" stroke-width="0.12">index</text>
<line x1="145.5" y1="282.52" x2="145.5" y2="285.32" stroke="#222" stroke-width="0.8"/>
<text x="145.50" y="293.72" font-size="5.95" text-anchor="middle" fill="#2a2a2a" style="" stroke="#2a2a2a" stroke-width="0.12">Pat12</text>
<text x="145.50" y="301.32" font-size="5.95" text-anchor="middle" fill="#2a2a2a" style="" stroke="#2a2a2a" stroke-width="0.12">no SPD</text>
<line x1="175" y1="282.52" x2="175" y2="285.32" stroke="#222" stroke-width="0.8"/>
<text x="175.00" y="293.72" font-size="5.95" text-anchor="middle" fill="#2a2a2a" style="" stroke="#2a2a2a" stroke-width="0.12">CCF</text>
<text x="175.00" y="301.32" font-size="5.95" text-anchor="middle" fill="#2a2a2a" style="" stroke="#2a2a2a" stroke-width="0.12">± SD</text>
<rect x="46.90" y="239.20" width="2.91" height="1.08" fill="#12121a"/>
<rect x="46.90" y="240.28" width="2.91" height="2.17" fill="#a50d1a"/>
<rect x="46.90" y="242.45" width="2.91" height="5.41" fill="url(#rdn)"/>
<rect x="46.90" y="247.86" width="2.91" height="3.25" fill="#f6d4d7"/>
<rect x="46.90" y="251.11" width="2.91" height="2.17" fill="#d9eeea"/>
<rect x="46.90" y="254.36" width="2.91" height="3.25" fill="#1b93aa"/>
<rect x="51.05" y="239.20" width="2.91" height="3.25" fill="#12121a"/>
<rect x="51.05" y="242.45" width="2.91" height="3.25" fill="#a50d1a"/>
<rect x="51.05" y="245.70" width="2.91" height="15.16" fill="url(#rdn)"/>
<rect x="51.05" y="260.86" width="2.91" height="2.17" fill="#ec7a70"/>
<rect x="51.05" y="263.03" width="2.91" height="4.33" fill="#f6d4d7"/>
<rect x="51.05" y="269.52" width="2.91" height="3.25" fill="#1b93aa"/>
<rect x="55.22" y="239.20" width="2.91" height="2.17" fill="#12121a"/>
<rect x="55.22" y="241.37" width="2.91" height="2.17" fill="#a50d1a"/>
<rect x="55.22" y="243.53" width="2.91" height="9.75" fill="url(#rdn)"/>
<rect x="55.22" y="253.28" width="2.91" height="4.33" fill="#f6d4d7"/>
<rect x="55.22" y="257.61" width="2.91" height="13.00" fill="#d9eeea"/>
<rect x="59.38" y="237.03" width="2.91" height="2.17" fill="#a50d1a"/>
<rect x="59.38" y="233.78" width="2.91" height="3.25" fill="#cf1b24"/>
<rect x="63.53" y="239.20" width="2.91" height="1.08" fill="#12121a"/>
<rect x="63.53" y="240.28" width="2.91" height="2.17" fill="#a50d1a"/>
<rect x="63.53" y="242.45" width="2.91" height="11.91" fill="url(#rdn)"/>
<rect x="63.53" y="254.36" width="2.91" height="4.33" fill="#f6d4d7"/>
<rect x="63.53" y="258.69" width="2.91" height="5.42" fill="#d9eeea"/>
<rect x="67.70" y="238.12" width="2.91" height="1.08" fill="#a50d1a"/>
<rect x="67.70" y="226.20" width="2.91" height="11.91" fill="url(#rup)"/>
<rect x="67.70" y="224.04" width="2.91" height="2.17" fill="#ec7a70"/>
<rect x="75.64" y="239.20" width="2.91" height="2.17" fill="#12121a"/>
<rect x="75.64" y="241.37" width="2.91" height="2.17" fill="#a50d1a"/>
<rect x="75.64" y="243.53" width="2.91" height="17.33" fill="url(#rdn)"/>
<rect x="75.64" y="260.86" width="2.91" height="5.41" fill="#f6d4d7"/>
<rect x="75.64" y="266.27" width="2.91" height="3.25" fill="#d9eeea"/>
<rect x="75.64" y="269.52" width="2.91" height="3.25" fill="#1b93aa"/>
<rect x="79.81" y="239.20" width="2.91" height="2.17" fill="#12121a"/>
<rect x="79.81" y="241.37" width="2.91" height="2.17" fill="#a50d1a"/>
<rect x="79.81" y="243.53" width="2.91" height="18.41" fill="url(#rdn)"/>
<rect x="79.81" y="261.94" width="2.91" height="4.33" fill="#f6d4d7"/>
<rect x="79.81" y="266.27" width="2.91" height="3.25" fill="#d9eeea"/>
<rect x="79.81" y="269.52" width="2.91" height="2.17" fill="#1b93aa"/>
<rect x="83.97" y="239.20" width="2.91" height="2.17" fill="#12121a"/>
<rect x="83.97" y="241.37" width="2.91" height="2.17" fill="#a50d1a"/>
<rect x="83.97" y="243.53" width="2.91" height="9.75" fill="url(#rdn)"/>
<rect x="83.97" y="253.28" width="2.91" height="4.33" fill="#f6d4d7"/>
<rect x="83.97" y="257.61" width="2.91" height="8.66" fill="#d9eeea"/>
<rect x="88.12" y="239.20" width="2.91" height="2.17" fill="#a50d1a"/>
<rect x="88.12" y="241.37" width="2.91" height="9.75" fill="url(#rdn)"/>
<rect x="88.12" y="251.11" width="2.91" height="2.17" fill="#f6d4d7"/>
<rect x="92.28" y="239.20" width="2.91" height="1.08" fill="#12121a"/>
<rect x="92.28" y="240.28" width="2.91" height="2.17" fill="#a50d1a"/>
<rect x="92.28" y="242.45" width="2.91" height="4.33" fill="url(#rdn)"/>
<rect x="92.28" y="246.78" width="2.91" height="3.25" fill="#f6d4d7"/>
<rect x="92.28" y="250.03" width="2.91" height="8.66" fill="#d9eeea"/>
<rect x="96.45" y="239.20" width="2.91" height="2.17" fill="#12121a"/>
<rect x="104.39" y="239.20" width="2.91" height="2.17" fill="#12121a"/>
<rect x="104.39" y="241.37" width="2.91" height="2.17" fill="#a50d1a"/>
<rect x="104.39" y="243.53" width="2.91" height="13.00" fill="url(#rdn)"/>
<rect x="104.39" y="256.53" width="2.91" height="5.42" fill="#f6d4d7"/>
<rect x="104.39" y="263.03" width="2.91" height="2.17" fill="#1b93aa"/>
<rect x="108.56" y="239.20" width="2.91" height="3.25" fill="#12121a"/>
<rect x="108.56" y="242.45" width="2.91" height="2.17" fill="#a50d1a"/>
<rect x="108.56" y="244.61" width="2.91" height="8.66" fill="url(#rdn)"/>
<rect x="108.56" y="253.28" width="2.91" height="3.25" fill="#f6d4d7"/>
<rect x="108.56" y="256.53" width="2.91" height="2.17" fill="#d9eeea"/>
<rect x="108.56" y="258.69" width="2.91" height="2.17" fill="#1b93aa"/>
<rect x="112.72" y="239.20" width="2.91" height="2.17" fill="#12121a"/>
<rect x="112.72" y="241.37" width="2.91" height="2.17" fill="#a50d1a"/>
<rect x="112.72" y="243.53" width="2.91" height="8.66" fill="url(#rdn)"/>
<rect x="112.72" y="252.20" width="2.91" height="4.33" fill="#f6d4d7"/>
<rect x="112.72" y="256.53" width="2.91" height="10.83" fill="#d9eeea"/>
<rect x="116.88" y="239.20" width="2.91" height="2.17" fill="#12121a"/>
<rect x="116.88" y="241.37" width="2.91" height="6.50" fill="url(#rdn)"/>
<rect x="116.88" y="247.86" width="2.91" height="4.33" fill="#ec7a70"/>
<rect x="121.03" y="239.20" width="2.91" height="2.17" fill="#a50d1a"/>
<rect x="121.03" y="241.37" width="2.91" height="14.08" fill="url(#rdn)"/>
<rect x="121.03" y="255.44" width="2.91" height="4.33" fill="#f6d4d7"/>
<rect x="121.03" y="259.78" width="2.91" height="8.66" fill="#d9eeea"/>
<rect x="125.20" y="239.20" width="2.91" height="3.25" fill="#f6d4d7"/>
<rect x="133.34" y="234.87" width="2.91" height="4.33" fill="url(#rup)"/>
<rect x="133.34" y="233.24" width="2.91" height="1.62" fill="#1b93aa"/>
<rect x="137.50" y="237.58" width="2.91" height="1.08" fill="#1b93aa"/>
<rect x="137.50" y="239.20" width="2.91" height="2.17" fill="#12121a"/>
<rect x="137.50" y="241.37" width="2.91" height="3.25" fill="#f6d4d7"/>
<rect x="141.66" y="238.12" width="2.91" height="1.08" fill="#a50d1a"/>
<rect x="141.66" y="233.78" width="2.91" height="4.33" fill="url(#rup)"/>
<rect x="145.82" y="237.03" width="2.91" height="2.17" fill="#a50d1a"/>
<rect x="145.82" y="225.12" width="2.91" height="11.91" fill="url(#rup)"/>
<rect x="149.98" y="237.03" width="2.91" height="2.17" fill="#a50d1a"/>
<rect x="149.98" y="225.12" width="2.91" height="11.91" fill="url(#rup)"/>
<rect x="149.98" y="222.95" width="2.91" height="2.17" fill="#d9eeea"/>
<rect x="149.98" y="217.54" width="2.91" height="5.41" fill="#1b93aa"/>
<rect x="154.14" y="239.20" width="2.91" height="2.17" fill="#12121a"/>
<rect x="154.14" y="241.37" width="2.91" height="2.17" fill="#f6d4d7"/>
<rect x="162.70" y="237.40" width="1.2" height="1.80" fill="#5e5050"/>
<rect x="166.86" y="237.40" width="1.2" height="1.80" fill="#5e5050"/>
<rect x="171.02" y="238.30" width="1.2" height="0.90" fill="#5e5050"/>
<rect x="175.18" y="236.20" width="1.2" height="3.00" fill="#5e5050"/>
<rect x="179.34" y="235.90" width="1.2" height="3.30" fill="#5e5050"/>
<rect x="183.50" y="237.00" width="1.2" height="2.20" fill="#5e5050"/>
<line x1="45.5" y1="239.20" x2="186.5" y2="239.20" stroke="#111" stroke-width="1"/>
<text x="195.80" y="163.50" font-size="10.4" text-anchor="start" fill="#000" style="font-weight:bold;" stroke="#000" stroke-width="0.25">D</text>
<text x="291.30" y="175.90" font-size="7.1" text-anchor="middle" fill="#222" style="font-style:italic;" >δSPD (family 5)</text>
<line x1="234.6" y1="188.8" x2="260.8" y2="188.8" stroke="#333" stroke-width="0.9"/>
<path d="M260.3,187.3 L263.3,188.8 L260.3,190.3 Z" fill="#111"/>
<rect x="235.2" y="191.90" width="28.30" height="8.30" fill="#fff" stroke="#8a8a8a" stroke-width="0.9"/>
<text transform="translate(236.50,198.50) scale(0.65,1)" font-size="6.8" fill="#333" stroke="#333" stroke-width="0.15">S</text>
<text transform="translate(240.97,198.50) scale(0.65,1)" font-size="6.8" fill="#333" stroke="#333" stroke-width="0.15">S</text>
<text transform="translate(245.44,198.50) scale(0.65,1)" font-size="6.8" fill="#333" stroke="#333" stroke-width="0.15">S</text>
<text transform="translate(249.91,198.50) scale(0.65,1)" font-size="6.8" fill="#333" stroke="#333" stroke-width="0.15">S</text>
<text transform="translate(254.38,198.50) scale(0.65,1)" font-size="6.8" fill="#333" stroke="#333" stroke-width="0.15">S</text>
<text transform="translate(258.85,198.50) scale(0.65,1)" font-size="6.8" fill="#333" stroke="#333" stroke-width="0.15">S</text>
<line x1="235.3" y1="203.78" x2="235.3" y2="283.36" stroke="#222" stroke-width="1"/>
<line x1="232.10000000000002" y1="206.78" x2="235.3" y2="206.78" stroke="#222" stroke-width="0.9"/>
<text x="229.90" y="208.93" font-size="6.0" text-anchor="end" fill="#222" style="" stroke="#222" stroke-width="0.1">30</text>
<line x1="232.10000000000002" y1="217.72" x2="235.3" y2="217.72" stroke="#222" stroke-width="0.9"/>
<text x="229.90" y="219.87" font-size="6.0" text-anchor="end" fill="#222" style="" stroke="#222" stroke-width="0.1">20</text>
<line x1="232.10000000000002" y1="228.66" x2="235.3" y2="228.66" stroke="#222" stroke-width="0.9"/>
<text x="229.90" y="230.81" font-size="6.0" text-anchor="end" fill="#222" style="" stroke="#222" stroke-width="0.1">10</text>
<line x1="232.10000000000002" y1="239.60" x2="235.3" y2="239.60" stroke="#222" stroke-width="0.9"/>
<text x="229.90" y="241.75" font-size="6.0" text-anchor="end" fill="#222" style="" stroke="#222" stroke-width="0.1">0</text>
<line x1="232.10000000000002" y1="250.54" x2="235.3" y2="250.54" stroke="#222" stroke-width="0.9"/>
<text x="229.90" y="252.69" font-size="6.0" text-anchor="end" fill="#222" style="" stroke="#222" stroke-width="0.1">−10</text>
<line x1="232.10000000000002" y1="261.48" x2="235.3" y2="261.48" stroke="#222" stroke-width="0.9"/>
<text x="229.90" y="263.63" font-size="6.0" text-anchor="end" fill="#222" style="" stroke="#222" stroke-width="0.1">−20</text>
<line x1="232.10000000000002" y1="272.42" x2="235.3" y2="272.42" stroke="#222" stroke-width="0.9"/>
<text x="229.90" y="274.57" font-size="6.0" text-anchor="end" fill="#222" style="" stroke="#222" stroke-width="0.1">−30</text>
<line x1="232.10000000000002" y1="283.36" x2="235.3" y2="283.36" stroke="#222" stroke-width="0.9"/>
<text x="229.90" y="285.51" font-size="6.0" text-anchor="end" fill="#222" style="" stroke="#222" stroke-width="0.1">−40</text>
<text x="0" y="0" font-size="7.2" text-anchor="middle" fill="#222" stroke="#222" stroke-width="0.28" transform="translate(213.80,243.67) rotate(-90)" textLength="48.6" lengthAdjust="spacingAndGlyphs">Cumulative effect</text>
<line x1="234.8" y1="283.36" x2="351" y2="283.36" stroke="#222" stroke-width="1"/>
<line x1="263.9" y1="202.28" x2="263.9" y2="283.36" stroke="#4a4a55" stroke-width="0.95" stroke-dasharray="3.50,1.59"/>
<line x1="292.7" y1="202.28" x2="292.7" y2="283.36" stroke="#4a4a55" stroke-width="0.95" stroke-dasharray="3.50,1.59"/>
<line x1="322.1" y1="202.28" x2="322.1" y2="283.36" stroke="#4a4a55" stroke-width="0.95" stroke-dasharray="3.50,1.59"/>
<line x1="249.5" y1="283.36" x2="249.5" y2="286.16" stroke="#222" stroke-width="0.8"/>
<text x="249.50" y="294.56" font-size="5.95" text-anchor="middle" fill="#2a2a2a" style="" stroke="#2a2a2a" stroke-width="0.12">Pat13*</text>
<text x="249.50" y="302.16" font-size="5.95" text-anchor="middle" fill="#2a2a2a" style="" stroke="#2a2a2a" stroke-width="0.12">index</text>
<line x1="278.3" y1="283.36" x2="278.3" y2="286.16" stroke="#222" stroke-width="0.8"/>
<text x="278.30" y="294.56" font-size="5.95" text-anchor="middle" fill="#2a2a2a" style="" stroke="#2a2a2a" stroke-width="0.12">Pat14*</text>
<text x="278.30" y="302.16" font-size="5.95" text-anchor="middle" fill="#2a2a2a" style="" stroke="#2a2a2a" stroke-width="0.12">index</text>
<line x1="307" y1="283.36" x2="307" y2="286.16" stroke="#222" stroke-width="0.8"/>
<text x="307.00" y="294.56" font-size="5.95" text-anchor="middle" fill="#2a2a2a" style="" stroke="#2a2a2a" stroke-width="0.12">Pat15</text>
<text x="307.00" y="302.16" font-size="5.95" text-anchor="middle" fill="#2a2a2a" style="" stroke="#2a2a2a" stroke-width="0.12">unaffected</text>
<line x1="337.1" y1="283.36" x2="337.1" y2="286.16" stroke="#222" stroke-width="0.8"/>
<text x="337.10" y="294.56" font-size="5.95" text-anchor="middle" fill="#2a2a2a" style="" stroke="#2a2a2a" stroke-width="0.12">CCF</text>
<text x="337.10" y="302.16" font-size="5.95" text-anchor="middle" fill="#2a2a2a" style="" stroke="#2a2a2a" stroke-width="0.12">± SD</text>
<rect x="236.43" y="238.51" width="2.99" height="1.09" fill="#12121a"/>
<rect x="236.43" y="239.60" width="2.99" height="1.09" fill="#f6d4d7"/>
<rect x="236.43" y="240.69" width="2.99" height="3.28" fill="#cf1b24"/>
<rect x="240.70" y="231.94" width="2.99" height="3.28" fill="#1b93aa"/>
<rect x="240.70" y="235.22" width="2.99" height="3.28" fill="#d9eeea"/>
<rect x="240.70" y="238.51" width="2.99" height="1.09" fill="#12121a"/>
<rect x="240.70" y="239.60" width="2.99" height="2.19" fill="#a50d1a"/>
<rect x="240.70" y="241.79" width="2.99" height="8.75" fill="url(#rdn)"/>
<rect x="244.97" y="239.60" width="2.99" height="1.09" fill="#12121a"/>
<rect x="244.97" y="240.69" width="2.99" height="2.19" fill="#a50d1a"/>
<rect x="244.97" y="242.88" width="2.99" height="15.32" fill="url(#rdn)"/>
<rect x="244.97" y="258.20" width="2.99" height="5.47" fill="#f6d4d7"/>
<rect x="244.97" y="263.67" width="2.99" height="3.28" fill="#d9eeea"/>
<rect x="249.24" y="239.05" width="2.99" height="0.55" fill="#12121a"/>
<rect x="249.24" y="234.13" width="2.99" height="4.92" fill="url(#rup)"/>
<rect x="249.24" y="233.04" width="2.99" height="1.09" fill="#f6d4d7"/>
<rect x="253.51" y="239.60" width="2.99" height="2.19" fill="#a50d1a"/>
<rect x="253.51" y="241.79" width="2.99" height="7.66" fill="url(#rdn)"/>
<rect x="253.51" y="249.45" width="2.99" height="5.47" fill="#f6d4d7"/>
<rect x="253.51" y="254.92" width="2.99" height="2.19" fill="#d9eeea"/>
<rect x="253.51" y="257.10" width="2.99" height="1.09" fill="#1b93aa"/>
<rect x="257.78" y="239.60" width="2.99" height="1.09" fill="#12121a"/>
<rect x="266.13" y="235.22" width="2.99" height="4.38" fill="url(#rup)"/>
<rect x="266.13" y="234.13" width="2.99" height="1.09" fill="#f6d4d7"/>
<rect x="270.40" y="234.68" width="2.99" height="1.64" fill="#1b93aa"/>
<rect x="270.40" y="238.51" width="2.99" height="1.09" fill="#12121a"/>
<rect x="270.40" y="239.60" width="2.99" height="2.19" fill="#a50d1a"/>
<rect x="270.40" y="241.79" width="2.99" height="4.38" fill="url(#rdn)"/>
<rect x="274.67" y="237.41" width="2.99" height="2.19" fill="#cf1b24"/>
<rect x="274.67" y="235.22" width="2.99" height="1.09" fill="#d9eeea"/>
<rect x="278.94" y="233.04" width="2.99" height="6.56" fill="url(#rup)"/>
<rect x="278.94" y="231.39" width="2.99" height="1.64" fill="#f6d4d7"/>
<rect x="278.94" y="227.02" width="2.99" height="1.09" fill="#1b93aa"/>
<rect x="283.21" y="239.60" width="2.99" height="1.09" fill="#12121a"/>
<rect x="283.21" y="240.69" width="2.99" height="3.28" fill="#cf1b24"/>
<rect x="287.48" y="239.60" width="2.99" height="0.55" fill="#12121a"/>
<rect x="295.83" y="238.51" width="2.99" height="1.09" fill="#12121a"/>
<rect x="295.83" y="236.32" width="2.99" height="2.19" fill="#80808a"/>
<rect x="295.83" y="230.85" width="2.99" height="5.47" fill="url(#rup)"/>
<rect x="295.83" y="229.75" width="2.99" height="1.09" fill="#f6d4d7"/>
<rect x="300.10" y="238.51" width="2.99" height="1.09" fill="#12121a"/>
<rect x="300.10" y="236.32" width="2.99" height="2.19" fill="#80808a"/>
<rect x="300.10" y="234.13" width="2.99" height="2.19" fill="#d9eeea"/>
<rect x="300.10" y="232.49" width="2.99" height="1.64" fill="#1b93aa"/>
<rect x="304.37" y="239.05" width="2.99" height="0.55" fill="#12121a"/>
<rect x="304.37" y="236.32" width="2.99" height="2.74" fill="#cf1b24"/>
<rect x="304.37" y="245.07" width="2.99" height="1.09" fill="#d9eeea"/>
<rect x="308.64" y="237.41" width="2.99" height="2.19" fill="#a50d1a"/>
<rect x="308.64" y="215.97" width="2.99" height="21.44" fill="url(#rup)"/>
<rect x="308.64" y="212.91" width="2.99" height="3.06" fill="#f6d4d7"/>
<rect x="312.91" y="239.60" width="2.99" height="1.09" fill="#12121a"/>
<rect x="312.91" y="240.69" width="2.99" height="3.72" fill="#cf1b24"/>
<rect x="317.18" y="239.60" width="2.99" height="0.55" fill="#12121a"/>
<rect x="326.72" y="237.80" width="1.2" height="1.80" fill="#5e5050"/>
<rect x="331.00" y="237.80" width="1.2" height="1.80" fill="#5e5050"/>
<rect x="335.26" y="238.70" width="1.2" height="0.90" fill="#5e5050"/>
<rect x="339.53" y="236.60" width="1.2" height="3.00" fill="#5e5050"/>
<rect x="343.80" y="236.30" width="1.2" height="3.30" fill="#5e5050"/>
<rect x="348.07" y="237.40" width="1.2" height="2.20" fill="#5e5050"/>
<line x1="235.3" y1="239.60" x2="351" y2="239.60" stroke="#111" stroke-width="1"/>
<text x="360.10" y="163.50" font-size="10.4" text-anchor="start" fill="#000" style="font-weight:bold;" stroke="#000" stroke-width="0.25">E</text>
<text x="454.20" y="175.60" font-size="7.1" text-anchor="middle" fill="#222" style="font-style:italic;" >δSPD and HSP-3 (family 6)</text>
<line x1="397.6" y1="190.9" x2="423.8" y2="190.9" stroke="#333" stroke-width="0.9"/>
<path d="M423.3,189.4 L426.3,190.9 L423.3,192.4 Z" fill="#111"/>
<rect x="398.2" y="194.00" width="27.70" height="8.30" fill="#fff" stroke="#8a8a8a" stroke-width="0.9"/>
<text transform="translate(399.50,200.60) scale(0.65,1)" font-size="6.8" fill="#333" stroke="#333" stroke-width="0.15">S</text>
<text transform="translate(403.85,200.60) scale(0.65,1)" font-size="6.8" fill="#333" stroke="#333" stroke-width="0.15">S</text>
<text transform="translate(408.20,200.60) scale(0.65,1)" font-size="6.8" fill="#333" stroke="#333" stroke-width="0.15">S</text>
<text transform="translate(412.55,200.60) scale(0.65,1)" font-size="6.8" fill="#333" stroke="#333" stroke-width="0.15">S</text>
<text transform="translate(416.90,200.60) scale(0.65,1)" font-size="6.8" fill="#333" stroke="#333" stroke-width="0.15">S</text>
<text transform="translate(421.25,200.60) scale(0.65,1)" font-size="6.8" fill="#333" stroke="#333" stroke-width="0.15">S</text>
<line x1="398.3" y1="203.66" x2="398.3" y2="283.54" stroke="#222" stroke-width="1"/>
<line x1="395.1" y1="206.66" x2="398.3" y2="206.66" stroke="#222" stroke-width="0.9"/>
<text x="392.90" y="208.81" font-size="6.0" text-anchor="end" fill="#222" style="" stroke="#222" stroke-width="0.1">40</text>
<line x1="395.1" y1="225.88" x2="398.3" y2="225.88" stroke="#222" stroke-width="0.9"/>
<text x="392.90" y="228.03" font-size="6.0" text-anchor="end" fill="#222" style="" stroke="#222" stroke-width="0.1">20</text>
<line x1="395.1" y1="245.10" x2="398.3" y2="245.10" stroke="#222" stroke-width="0.9"/>
<text x="392.90" y="247.25" font-size="6.0" text-anchor="end" fill="#222" style="" stroke="#222" stroke-width="0.1">0</text>
<line x1="395.1" y1="264.32" x2="398.3" y2="264.32" stroke="#222" stroke-width="0.9"/>
<text x="392.90" y="266.47" font-size="6.0" text-anchor="end" fill="#222" style="" stroke="#222" stroke-width="0.1">−20</text>
<line x1="395.1" y1="283.54" x2="398.3" y2="283.54" stroke="#222" stroke-width="0.9"/>
<text x="392.90" y="285.69" font-size="6.0" text-anchor="end" fill="#222" style="" stroke="#222" stroke-width="0.1">−40</text>
<text x="0" y="0" font-size="7.2" text-anchor="middle" fill="#222" stroke="#222" stroke-width="0.28" transform="translate(376.80,243.70) rotate(-90)" textLength="48.6" lengthAdjust="spacingAndGlyphs">Cumulative effect</text>
<line x1="397.8" y1="283.54" x2="513.5" y2="283.54" stroke="#222" stroke-width="1"/>
<line x1="427.2" y1="202.16" x2="427.2" y2="283.54" stroke="#4a4a55" stroke-width="0.95" stroke-dasharray="3.08,1.39"/>
<line x1="456.3" y1="202.16" x2="456.3" y2="283.54" stroke="#4a4a55" stroke-width="0.95" stroke-dasharray="3.08,1.39"/>
<line x1="485.5" y1="202.16" x2="485.5" y2="283.54" stroke="#4a4a55" stroke-width="0.95" stroke-dasharray="3.08,1.39"/>
<line x1="412" y1="283.54" x2="412" y2="286.34" stroke="#222" stroke-width="0.8"/>
<text x="412.00" y="294.74" font-size="5.95" text-anchor="middle" fill="#2a2a2a" style="" stroke="#2a2a2a" stroke-width="0.12">Pat16*</text>
<text x="412.00" y="302.34" font-size="5.95" text-anchor="middle" fill="#2a2a2a" style="" stroke="#2a2a2a" stroke-width="0.12">index</text>
<line x1="441.5" y1="283.54" x2="441.5" y2="286.34" stroke="#222" stroke-width="0.8"/>
<text x="441.50" y="294.74" font-size="5.95" text-anchor="middle" fill="#2a2a2a" style="" stroke="#2a2a2a" stroke-width="0.12">Pat17</text>
<text x="441.50" y="302.34" font-size="5.95" text-anchor="middle" fill="#2a2a2a" style="" stroke="#2a2a2a" stroke-width="0.12">carrier</text>
<line x1="470.3" y1="283.54" x2="470.3" y2="286.34" stroke="#222" stroke-width="0.8"/>
<text x="470.30" y="294.74" font-size="5.95" text-anchor="middle" fill="#2a2a2a" style="" stroke="#2a2a2a" stroke-width="0.12">Pat18</text>
<text x="470.30" y="302.34" font-size="5.95" text-anchor="middle" fill="#2a2a2a" style="" stroke="#2a2a2a" stroke-width="0.12">carrier</text>
<line x1="499.4" y1="283.54" x2="499.4" y2="286.34" stroke="#222" stroke-width="0.8"/>
<text x="499.40" y="294.74" font-size="5.95" text-anchor="middle" fill="#2a2a2a" style="" stroke="#2a2a2a" stroke-width="0.12">CCF</text>
<text x="499.40" y="302.34" font-size="5.95" text-anchor="middle" fill="#2a2a2a" style="" stroke="#2a2a2a" stroke-width="0.12">± SD</text>
<rect x="399.74" y="243.66" width="2.97" height="1.44" fill="#a50d1a"/>
<rect x="399.74" y="240.87" width="2.97" height="2.79" fill="#cf1b24"/>
<rect x="399.74" y="245.10" width="2.97" height="0.77" fill="#12121a"/>
<rect x="399.74" y="247.98" width="2.97" height="0.96" fill="#d9eeea"/>
<rect x="399.74" y="248.94" width="2.97" height="0.96" fill="#80808a"/>
<rect x="403.99" y="240.87" width="2.97" height="1.83" fill="#d9eeea"/>
<rect x="403.99" y="237.80" width="2.97" height="3.08" fill="#1b93aa"/>
<rect x="403.99" y="245.10" width="2.97" height="1.54" fill="#12121a"/>
<rect x="403.99" y="246.64" width="2.97" height="2.79" fill="#cf1b24"/>
<rect x="408.24" y="245.10" width="2.97" height="1.44" fill="#12121a"/>
<rect x="408.24" y="246.54" width="2.97" height="1.44" fill="#a50d1a"/>
<rect x="408.24" y="247.98" width="2.97" height="10.86" fill="url(#rdn)"/>
<rect x="408.24" y="258.84" width="2.97" height="2.11" fill="#f6d4d7"/>
<rect x="412.49" y="244.14" width="2.97" height="0.96" fill="#a50d1a"/>
<rect x="412.49" y="240.29" width="2.97" height="3.84" fill="url(#rup)"/>
<rect x="412.49" y="239.14" width="2.97" height="1.15" fill="#f6d4d7"/>
<rect x="412.49" y="245.10" width="2.97" height="0.96" fill="#12121a"/>
<rect x="416.74" y="245.10" width="2.97" height="1.44" fill="#12121a"/>
<rect x="416.74" y="246.54" width="2.97" height="1.44" fill="#a50d1a"/>
<rect x="416.74" y="247.98" width="2.97" height="10.19" fill="url(#rdn)"/>
<rect x="416.74" y="258.17" width="2.97" height="2.31" fill="#f6d4d7"/>
<rect x="416.74" y="260.48" width="2.97" height="3.84" fill="#d9eeea"/>
<rect x="420.99" y="245.10" width="2.97" height="1.54" fill="#12121a"/>
<rect x="429.24" y="243.18" width="2.97" height="1.92" fill="#12121a"/>
<rect x="429.24" y="240.29" width="2.97" height="1.25" fill="#f6d4d7"/>
<rect x="433.49" y="242.22" width="2.97" height="1.15" fill="#1b93aa"/>
<rect x="433.49" y="245.10" width="2.97" height="0.96" fill="#12121a"/>
<rect x="433.49" y="246.06" width="2.97" height="0.96" fill="#a50d1a"/>
<rect x="433.49" y="247.02" width="2.97" height="5.57" fill="url(#rdn)"/>
<rect x="433.49" y="252.60" width="2.97" height="1.92" fill="#f6d4d7"/>
<rect x="437.74" y="245.10" width="2.97" height="1.15" fill="#12121a"/>
<rect x="446.24" y="239.14" width="2.97" height="1.15" fill="#d9eeea"/>
<rect x="446.24" y="245.10" width="2.97" height="0.96" fill="#12121a"/>
<rect x="446.24" y="246.06" width="2.97" height="3.46" fill="#cf1b24"/>
<rect x="458.79" y="243.66" width="2.97" height="1.44" fill="#a50d1a"/>
<rect x="458.79" y="240.87" width="2.97" height="2.79" fill="#cf1b24"/>
<rect x="463.04" y="240.87" width="2.97" height="1.92" fill="#1b93aa"/>
<rect x="463.04" y="245.10" width="2.97" height="1.83" fill="#12121a"/>
<rect x="463.04" y="246.93" width="2.97" height="1.06" fill="#a50d1a"/>
<rect x="463.04" y="247.98" width="2.97" height="7.69" fill="url(#rdn)"/>
<rect x="467.29" y="245.10" width="2.97" height="7.50" fill="url(#rdn)"/>
<rect x="475.79" y="238.47" width="2.97" height="1.25" fill="#d9eeea"/>
<rect x="475.79" y="245.10" width="2.97" height="2.59" fill="#cf1b24"/>
<rect x="480.04" y="245.10" width="2.97" height="0.96" fill="#12121a"/>
<rect x="488.88" y="243.30" width="1.2" height="1.80" fill="#5e5050"/>
<rect x="493.12" y="243.30" width="1.2" height="1.80" fill="#5e5050"/>
<rect x="497.38" y="244.20" width="1.2" height="0.90" fill="#5e5050"/>
<rect x="501.62" y="242.10" width="1.2" height="3.00" fill="#5e5050"/>
<rect x="505.88" y="241.80" width="1.2" height="3.30" fill="#5e5050"/>
<rect x="510.12" y="242.90" width="1.2" height="2.20" fill="#5e5050"/>
<line x1="398.3" y1="245.10" x2="513.5" y2="245.10" stroke="#111" stroke-width="1"/>
<text x="6.40" y="318.50" font-size="10.4" text-anchor="start" fill="#000" style="font-weight:bold;" stroke="#000" stroke-width="0.25">F</text>
<text x="87.90" y="330.90" font-size="7.1" text-anchor="middle" fill="#222" style="font-style:italic;" >δSPD and variants in HSP3</text>
<text x="89.90" y="339.40" font-size="7.1" text-anchor="middle" fill="#222" style="font-style:italic;" >(family 7)</text>
<line x1="44.2" y1="343.8" x2="70.2" y2="343.8" stroke="#333" stroke-width="0.9"/>
<path d="M69.7,342.3 L72.7,343.8 L69.7,345.3 Z" fill="#111"/>
<rect x="45" y="346.90" width="27.30" height="8.30" fill="#fff" stroke="#8a8a8a" stroke-width="0.9"/>
<text transform="translate(46.30,353.50) scale(0.65,1)" font-size="6.8" fill="#333" stroke="#333" stroke-width="0.15">S</text>
<text transform="translate(50.57,353.50) scale(0.65,1)" font-size="6.8" fill="#333" stroke="#333" stroke-width="0.15">S</text>
<text transform="translate(54.84,353.50) scale(0.65,1)" font-size="6.8" fill="#333" stroke="#333" stroke-width="0.15">S</text>
<text transform="translate(59.11,353.50) scale(0.65,1)" font-size="6.8" fill="#333" stroke="#333" stroke-width="0.15">S</text>
<text transform="translate(63.38,353.50) scale(0.65,1)" font-size="6.8" fill="#333" stroke="#333" stroke-width="0.15">S</text>
<text transform="translate(67.65,353.50) scale(0.65,1)" font-size="6.8" fill="#333" stroke="#333" stroke-width="0.15">S</text>
<line x1="44.4" y1="358.04" x2="44.4" y2="436.16" stroke="#222" stroke-width="1"/>
<line x1="41.199999999999996" y1="361.04" x2="44.4" y2="361.04" stroke="#222" stroke-width="0.9"/>
<text x="39.00" y="363.19" font-size="6.0" text-anchor="end" fill="#222" style="" stroke="#222" stroke-width="0.1">40</text>
<line x1="41.199999999999996" y1="379.82" x2="44.4" y2="379.82" stroke="#222" stroke-width="0.9"/>
<text x="39.00" y="381.97" font-size="6.0" text-anchor="end" fill="#222" style="" stroke="#222" stroke-width="0.1">20</text>
<line x1="41.199999999999996" y1="398.60" x2="44.4" y2="398.60" stroke="#222" stroke-width="0.9"/>
<text x="39.00" y="400.75" font-size="6.0" text-anchor="end" fill="#222" style="" stroke="#222" stroke-width="0.1">0</text>
<line x1="41.199999999999996" y1="417.38" x2="44.4" y2="417.38" stroke="#222" stroke-width="0.9"/>
<text x="39.00" y="419.53" font-size="6.0" text-anchor="end" fill="#222" style="" stroke="#222" stroke-width="0.1">−20</text>
<line x1="41.199999999999996" y1="436.16" x2="44.4" y2="436.16" stroke="#222" stroke-width="0.9"/>
<text x="39.00" y="438.31" font-size="6.0" text-anchor="end" fill="#222" style="" stroke="#222" stroke-width="0.1">−40</text>
<text x="0" y="0" font-size="7.2" text-anchor="middle" fill="#222" stroke="#222" stroke-width="0.28" transform="translate(22.90,397.20) rotate(-90)" textLength="48.6" lengthAdjust="spacingAndGlyphs">Cumulative effect</text>
<line x1="43.9" y1="436.16" x2="134" y2="436.16" stroke="#222" stroke-width="1"/>
<line x1="74.2" y1="356.54" x2="74.2" y2="436.16" stroke="#4a4a55" stroke-width="0.95" stroke-dasharray="3.00,1.36"/>
<line x1="105.6" y1="356.54" x2="105.6" y2="436.16" stroke="#4a4a55" stroke-width="0.95" stroke-dasharray="3.00,1.36"/>
<line x1="58.8" y1="436.16" x2="58.8" y2="438.96" stroke="#222" stroke-width="0.8"/>
<text x="58.80" y="447.36" font-size="5.95" text-anchor="middle" fill="#2a2a2a" style="" stroke="#2a2a2a" stroke-width="0.12">Pat19*</text>
<text x="58.80" y="454.96" font-size="5.95" text-anchor="middle" fill="#2a2a2a" style="" stroke="#2a2a2a" stroke-width="0.12">index</text>
<line x1="88.3" y1="436.16" x2="88.3" y2="438.96" stroke="#222" stroke-width="0.8"/>
<text x="88.30" y="447.36" font-size="5.95" text-anchor="middle" fill="#2a2a2a" style="" stroke="#2a2a2a" stroke-width="0.12">Pat20</text>
<text x="88.30" y="454.96" font-size="5.95" text-anchor="middle" fill="#2a2a2a" style="" stroke="#2a2a2a" stroke-width="0.12">carrier</text>
<line x1="120.3" y1="436.16" x2="120.3" y2="438.96" stroke="#222" stroke-width="0.8"/>
<text x="120.30" y="447.36" font-size="5.95" text-anchor="middle" fill="#2a2a2a" style="" stroke="#2a2a2a" stroke-width="0.12">CCF</text>
<text x="120.30" y="454.96" font-size="5.95" text-anchor="middle" fill="#2a2a2a" style="" stroke="#2a2a2a" stroke-width="0.12">± SD</text>
<rect x="46.32" y="398.60" width="3.11" height="0.94" fill="#12121a"/>
<rect x="46.32" y="399.54" width="3.11" height="0.94" fill="#f6d4d7"/>
<rect x="50.77" y="393.06" width="3.11" height="4.23" fill="#1b93aa"/>
<rect x="50.77" y="398.60" width="3.11" height="0.94" fill="#12121a"/>
<rect x="50.77" y="399.54" width="3.11" height="1.88" fill="#a50d1a"/>
<rect x="50.77" y="401.42" width="3.11" height="9.20" fill="url(#rdn)"/>
<rect x="50.77" y="410.62" width="3.11" height="3.66" fill="#f6d4d7"/>
<rect x="55.22" y="398.60" width="3.11" height="1.88" fill="#12121a"/>
<rect x="55.22" y="400.48" width="3.11" height="1.88" fill="#a50d1a"/>
<rect x="55.22" y="402.36" width="3.11" height="5.63" fill="url(#rdn)"/>
<rect x="55.22" y="407.99" width="3.11" height="3.76" fill="#f6d4d7"/>
<rect x="55.22" y="411.75" width="3.11" height="8.08" fill="#d9eeea"/>
<rect x="59.67" y="398.13" width="3.11" height="0.50" fill="#12121a"/>
<rect x="59.67" y="394.00" width="3.11" height="4.13" fill="url(#rup)"/>
<rect x="64.12" y="398.60" width="3.11" height="0.94" fill="#12121a"/>
<rect x="64.12" y="399.54" width="3.11" height="1.88" fill="#a50d1a"/>
<rect x="64.12" y="401.42" width="3.11" height="10.33" fill="url(#rdn)"/>
<rect x="64.12" y="411.75" width="3.11" height="4.69" fill="#f6d4d7"/>
<rect x="64.12" y="416.44" width="3.11" height="4.23" fill="#d9eeea"/>
<rect x="64.12" y="420.67" width="3.11" height="1.88" fill="#1b93aa"/>
<rect x="68.57" y="393.62" width="3.11" height="2.25" fill="#1b93aa"/>
<rect x="76.97" y="396.72" width="3.11" height="1.88" fill="#a50d1a"/>
<rect x="76.97" y="393.06" width="3.11" height="3.66" fill="#cf1b24"/>
<rect x="76.97" y="389.77" width="3.11" height="0.85" fill="#f6d4d7"/>
<rect x="81.42" y="393.06" width="3.11" height="3.76" fill="#1b93aa"/>
<rect x="81.42" y="397.66" width="3.11" height="0.94" fill="#12121a"/>
<rect x="85.87" y="398.60" width="3.11" height="0.94" fill="#12121a"/>
<rect x="85.87" y="399.54" width="3.11" height="5.54" fill="url(#rdn)"/>
<rect x="85.87" y="407.90" width="3.11" height="0.94" fill="#d9eeea"/>
<rect x="90.32" y="397.66" width="3.11" height="0.94" fill="#a50d1a"/>
<rect x="90.32" y="393.06" width="3.11" height="4.60" fill="url(#rup)"/>
<rect x="94.77" y="398.60" width="3.11" height="0.94" fill="#12121a"/>
<rect x="94.77" y="399.54" width="3.11" height="5.54" fill="url(#rdn)"/>
<rect x="94.77" y="405.08" width="3.11" height="2.91" fill="#f6d4d7"/>
<rect x="94.77" y="407.99" width="3.11" height="4.23" fill="#d9eeea"/>
<rect x="94.77" y="412.22" width="3.11" height="1.22" fill="#1b93aa"/>
<rect x="99.22" y="396.72" width="3.11" height="1.88" fill="#a50d1a"/>
<rect x="99.22" y="388.46" width="3.11" height="8.26" fill="url(#rup)"/>
<rect x="108.93" y="396.80" width="1.2" height="1.80" fill="#5e5050"/>
<rect x="113.38" y="396.80" width="1.2" height="1.80" fill="#5e5050"/>
<rect x="117.83" y="397.70" width="1.2" height="0.90" fill="#5e5050"/>
<rect x="122.28" y="395.60" width="1.2" height="3.00" fill="#5e5050"/>
<rect x="126.73" y="395.30" width="1.2" height="3.30" fill="#5e5050"/>
<rect x="131.18" y="396.40" width="1.2" height="2.20" fill="#5e5050"/>
<line x1="44.4" y1="398.60" x2="134" y2="398.60" stroke="#111" stroke-width="1"/>
<text x="149.00" y="318.50" font-size="10.4" text-anchor="start" fill="#000" style="font-weight:bold;" stroke="#000" stroke-width="0.25">G</text>
<text x="249.70" y="329.60" font-size="7.1" text-anchor="middle" fill="#222" style="font-style:italic;" >δSPD and HSP-1 (family 8)</text>
<line x1="187.6" y1="342.5" x2="213.8" y2="342.5" stroke="#333" stroke-width="0.9"/>
<path d="M213.3,341.0 L216.3,342.5 L213.3,344.0 Z" fill="#111"/>
<rect x="188.2" y="345.60" width="27.90" height="8.30" fill="#fff" stroke="#8a8a8a" stroke-width="0.9"/>
<text transform="translate(189.50,352.20) scale(0.65,1)" font-size="6.8" fill="#333" stroke="#333" stroke-width="0.15">S</text>
<text transform="translate(193.89,352.20) scale(0.65,1)" font-size="6.8" fill="#333" stroke="#333" stroke-width="0.15">S</text>
<text transform="translate(198.28,352.20) scale(0.65,1)" font-size="6.8" fill="#333" stroke="#333" stroke-width="0.15">S</text>
<text transform="translate(202.67,352.20) scale(0.65,1)" font-size="6.8" fill="#333" stroke="#333" stroke-width="0.15">S</text>
<text transform="translate(207.06,352.20) scale(0.65,1)" font-size="6.8" fill="#333" stroke="#333" stroke-width="0.15">S</text>
<text transform="translate(211.45,352.20) scale(0.65,1)" font-size="6.8" fill="#333" stroke="#333" stroke-width="0.15">S</text>
<line x1="188.6" y1="355.42" x2="188.6" y2="434.18" stroke="#222" stroke-width="1"/>
<line x1="185.4" y1="358.42" x2="188.6" y2="358.42" stroke="#222" stroke-width="0.9"/>
<text x="183.20" y="360.57" font-size="6.0" text-anchor="end" fill="#222" style="" stroke="#222" stroke-width="0.1">40</text>
<line x1="185.4" y1="377.36" x2="188.6" y2="377.36" stroke="#222" stroke-width="0.9"/>
<text x="183.20" y="379.51" font-size="6.0" text-anchor="end" fill="#222" style="" stroke="#222" stroke-width="0.1">20</text>
<line x1="185.4" y1="396.30" x2="188.6" y2="396.30" stroke="#222" stroke-width="0.9"/>
<text x="183.20" y="398.45" font-size="6.0" text-anchor="end" fill="#222" style="" stroke="#222" stroke-width="0.1">0</text>
<line x1="185.4" y1="415.24" x2="188.6" y2="415.24" stroke="#222" stroke-width="0.9"/>
<text x="183.20" y="417.39" font-size="6.0" text-anchor="end" fill="#222" style="" stroke="#222" stroke-width="0.1">−20</text>
<line x1="185.4" y1="434.18" x2="188.6" y2="434.18" stroke="#222" stroke-width="0.9"/>
<text x="183.20" y="436.33" font-size="6.0" text-anchor="end" fill="#222" style="" stroke="#222" stroke-width="0.1">−40</text>
<text x="0" y="0" font-size="7.2" text-anchor="middle" fill="#222" stroke="#222" stroke-width="0.28" transform="translate(167.10,394.90) rotate(-90)" textLength="48.6" lengthAdjust="spacingAndGlyphs">Cumulative effect</text>
<line x1="188.1" y1="434.18" x2="314" y2="434.18" stroke="#222" stroke-width="1"/>
<line x1="218.4" y1="353.92" x2="218.4" y2="434.18" stroke="#4a4a55" stroke-width="0.95" stroke-dasharray="3.03,1.37"/>
<line x1="251.5" y1="353.92" x2="251.5" y2="434.18" stroke="#4a4a55" stroke-width="0.95" stroke-dasharray="3.03,1.37"/>
<line x1="283.6" y1="353.92" x2="283.6" y2="434.18" stroke="#4a4a55" stroke-width="0.95" stroke-dasharray="3.03,1.37"/>
<line x1="203.5" y1="434.18" x2="203.5" y2="436.98" stroke="#222" stroke-width="0.8"/>
<text x="203.50" y="445.38" font-size="5.95" text-anchor="middle" fill="#2a2a2a" style="" stroke="#2a2a2a" stroke-width="0.12">Pat21*</text>
<text x="203.50" y="452.98" font-size="5.95" text-anchor="middle" fill="#2a2a2a" style="" stroke="#2a2a2a" stroke-width="0.12">index</text>
<line x1="235" y1="434.18" x2="235" y2="436.98" stroke="#222" stroke-width="0.8"/>
<text x="235.00" y="445.38" font-size="5.95" text-anchor="middle" fill="#2a2a2a" style="" stroke="#2a2a2a" stroke-width="0.12">Pat22</text>
<text x="235.00" y="452.98" font-size="5.95" text-anchor="middle" fill="#2a2a2a" style="" stroke="#2a2a2a" stroke-width="0.12">carrier</text>
<line x1="267" y1="434.18" x2="267" y2="436.98" stroke="#222" stroke-width="0.8"/>
<text x="267.00" y="445.38" font-size="5.95" text-anchor="middle" fill="#2a2a2a" style="" stroke="#2a2a2a" stroke-width="0.12">Pat23</text>
<text x="267.00" y="452.98" font-size="5.95" text-anchor="middle" fill="#2a2a2a" style="" stroke="#2a2a2a" stroke-width="0.12">carrier</text>
<line x1="298.5" y1="434.18" x2="298.5" y2="436.98" stroke="#222" stroke-width="0.8"/>
<text x="298.50" y="445.38" font-size="5.95" text-anchor="middle" fill="#2a2a2a" style="" stroke="#2a2a2a" stroke-width="0.12">CCF</text>
<text x="298.50" y="452.98" font-size="5.95" text-anchor="middle" fill="#2a2a2a" style="" stroke="#2a2a2a" stroke-width="0.12">± SD</text>
<rect x="190.30" y="395.35" width="3.21" height="0.95" fill="#12121a"/>
<rect x="190.30" y="393.74" width="3.21" height="1.61" fill="#cf1b24"/>
<rect x="190.30" y="389.01" width="3.21" height="1.33" fill="#1b93aa"/>
<rect x="194.88" y="392.42" width="3.21" height="1.33" fill="#1b93aa"/>
<rect x="194.88" y="396.30" width="3.21" height="4.17" fill="url(#rdn)"/>
<rect x="199.46" y="396.30" width="3.21" height="0.95" fill="#12121a"/>
<rect x="199.46" y="397.25" width="3.21" height="1.89" fill="#a50d1a"/>
<rect x="199.46" y="399.14" width="3.21" height="5.68" fill="url(#rdn)"/>
<rect x="199.46" y="404.82" width="3.21" height="1.89" fill="#f6d4d7"/>
<rect x="204.03" y="395.35" width="3.21" height="0.95" fill="#12121a"/>
<rect x="204.03" y="392.51" width="3.21" height="2.84" fill="#cf1b24"/>
<rect x="204.03" y="390.33" width="3.21" height="2.18" fill="#f6d4d7"/>
<rect x="204.03" y="386.36" width="3.21" height="0.95" fill="#d9eeea"/>
<rect x="208.62" y="396.30" width="3.21" height="1.89" fill="#12121a"/>
<rect x="208.62" y="398.19" width="3.21" height="4.36" fill="url(#rdn)"/>
<rect x="208.62" y="402.55" width="3.21" height="1.80" fill="#f6d4d7"/>
<rect x="208.62" y="404.35" width="3.21" height="2.18" fill="#d9eeea"/>
<rect x="213.19" y="395.35" width="3.21" height="0.95" fill="#a50d1a"/>
<rect x="213.19" y="393.74" width="3.21" height="1.61" fill="#cf1b24"/>
<rect x="222.40" y="392.42" width="3.21" height="3.88" fill="url(#rup)"/>
<rect x="222.40" y="398.19" width="3.21" height="0.85" fill="#d9eeea"/>
<rect x="226.97" y="393.74" width="3.21" height="1.33" fill="#1b93aa"/>
<rect x="226.97" y="395.83" width="3.21" height="0.50" fill="#12121a"/>
<rect x="226.97" y="399.80" width="3.21" height="2.75" fill="#f6d4d7"/>
<rect x="226.97" y="396.77" width="3.21" height="0.50" fill="#12121a"/>
<rect x="231.56" y="392.51" width="3.21" height="3.79" fill="url(#rup)"/>
<rect x="231.56" y="396.30" width="3.21" height="0.50" fill="#12121a"/>
<rect x="231.56" y="403.21" width="3.21" height="1.33" fill="#d9eeea"/>
<rect x="236.13" y="394.41" width="3.21" height="1.89" fill="#a50d1a"/>
<rect x="236.13" y="383.04" width="3.21" height="11.36" fill="url(#rup)"/>
<rect x="240.72" y="396.30" width="3.21" height="1.89" fill="#12121a"/>
<rect x="240.72" y="398.19" width="3.21" height="5.02" fill="url(#rdn)"/>
<rect x="245.29" y="395.35" width="3.21" height="0.95" fill="#12121a"/>
<rect x="245.29" y="390.33" width="3.21" height="2.75" fill="#f6d4d7"/>
<rect x="245.29" y="393.08" width="3.21" height="2.27" fill="#cf1b24"/>
<rect x="254.34" y="390.33" width="3.21" height="5.97" fill="url(#rup)"/>
<rect x="254.34" y="397.25" width="3.21" height="0.76" fill="#d9eeea"/>
<rect x="258.92" y="395.35" width="3.21" height="0.95" fill="#12121a"/>
<rect x="258.92" y="391.66" width="3.21" height="2.75" fill="#1b93aa"/>
<rect x="263.50" y="395.35" width="3.21" height="0.95" fill="#a50d1a"/>
<rect x="263.50" y="384.37" width="3.21" height="10.99" fill="url(#rup)"/>
<rect x="263.50" y="381.72" width="3.21" height="1.33" fill="#f6d4d7"/>
<rect x="268.08" y="395.35" width="3.21" height="0.95" fill="#a50d1a"/>
<rect x="268.08" y="384.94" width="3.21" height="10.42" fill="url(#rup)"/>
<rect x="268.08" y="383.70" width="3.21" height="1.23" fill="#f6d4d7"/>
<rect x="272.66" y="396.30" width="3.21" height="1.89" fill="#12121a"/>
<rect x="272.66" y="398.19" width="3.21" height="1.89" fill="#a50d1a"/>
<rect x="272.66" y="400.09" width="3.21" height="2.84" fill="#cf1b24"/>
<rect x="272.66" y="402.93" width="3.21" height="3.79" fill="#f6d4d7"/>
<rect x="272.66" y="406.72" width="3.21" height="3.22" fill="#d9eeea"/>
<rect x="272.66" y="409.94" width="3.21" height="1.23" fill="#1b93aa"/>
<rect x="277.24" y="395.35" width="3.21" height="0.95" fill="#a50d1a"/>
<rect x="277.24" y="387.11" width="3.21" height="8.24" fill="url(#rup)"/>
<rect x="287.10" y="394.50" width="1.2" height="1.80" fill="#5e5050"/>
<rect x="291.68" y="394.50" width="1.2" height="1.80" fill="#5e5050"/>
<rect x="296.26" y="395.40" width="1.2" height="0.90" fill="#5e5050"/>
<rect x="300.84" y="393.30" width="1.2" height="3.00" fill="#5e5050"/>
<rect x="305.42" y="393.00" width="1.2" height="3.30" fill="#5e5050"/>
<rect x="310.00" y="394.10" width="1.2" height="2.20" fill="#5e5050"/>
<line x1="188.6" y1="396.30" x2="314" y2="396.30" stroke="#111" stroke-width="1"/>
<text x="328.40" y="318.50" font-size="10.4" text-anchor="start" fill="#000" style="font-weight:bold;" stroke="#000" stroke-width="0.25">H</text>
<text x="438.80" y="329.60" font-size="7.1" text-anchor="middle" fill="#222" style="font-style:italic;" >δSPD and HSP-1 (family 9)</text>
<line x1="368" y1="342.8" x2="393.8" y2="342.8" stroke="#333" stroke-width="0.9"/>
<path d="M393.3,341.3 L396.3,342.8 L393.3,344.3 Z" fill="#111"/>
<rect x="368.4" y="345.90" width="27.70" height="8.30" fill="#fff" stroke="#8a8a8a" stroke-width="0.9"/>
<text transform="translate(369.70,352.50) scale(0.65,1)" font-size="6.8" fill="#333" stroke="#333" stroke-width="0.15">S</text>
<text transform="translate(374.05,352.50) scale(0.65,1)" font-size="6.8" fill="#333" stroke="#333" stroke-width="0.15">S</text>
<text transform="translate(378.40,352.50) scale(0.65,1)" font-size="6.8" fill="#333" stroke="#333" stroke-width="0.15">S</text>
<text transform="translate(382.75,352.50) scale(0.65,1)" font-size="6.8" fill="#333" stroke="#333" stroke-width="0.15">S</text>
<text transform="translate(387.10,352.50) scale(0.65,1)" font-size="6.8" fill="#333" stroke="#333" stroke-width="0.15">S</text>
<text transform="translate(391.45,352.50) scale(0.65,1)" font-size="6.8" fill="#333" stroke="#333" stroke-width="0.15">S</text>
<line x1="368.2" y1="357.46" x2="368.2" y2="434.14" stroke="#222" stroke-width="1"/>
<line x1="365.0" y1="360.46" x2="368.2" y2="360.46" stroke="#222" stroke-width="0.9"/>
<text x="362.80" y="362.61" font-size="6.0" text-anchor="end" fill="#222" style="" stroke="#222" stroke-width="0.1">40</text>
<line x1="365.0" y1="378.88" x2="368.2" y2="378.88" stroke="#222" stroke-width="0.9"/>
<text x="362.80" y="381.03" font-size="6.0" text-anchor="end" fill="#222" style="" stroke="#222" stroke-width="0.1">20</text>
<line x1="365.0" y1="397.30" x2="368.2" y2="397.30" stroke="#222" stroke-width="0.9"/>
<text x="362.80" y="399.45" font-size="6.0" text-anchor="end" fill="#222" style="" stroke="#222" stroke-width="0.1">0</text>
<line x1="365.0" y1="415.72" x2="368.2" y2="415.72" stroke="#222" stroke-width="0.9"/>
<text x="362.80" y="417.87" font-size="6.0" text-anchor="end" fill="#222" style="" stroke="#222" stroke-width="0.1">−20</text>
<line x1="365.0" y1="434.14" x2="368.2" y2="434.14" stroke="#222" stroke-width="0.9"/>
<text x="362.80" y="436.29" font-size="6.0" text-anchor="end" fill="#222" style="" stroke="#222" stroke-width="0.1">−40</text>
<text x="0" y="0" font-size="7.2" text-anchor="middle" fill="#222" stroke="#222" stroke-width="0.28" transform="translate(346.70,395.90) rotate(-90)" textLength="48.6" lengthAdjust="spacingAndGlyphs">Cumulative effect</text>
<line x1="367.7" y1="434.14" x2="512" y2="434.14" stroke="#222" stroke-width="1"/>
<line x1="396.1" y1="355.96" x2="396.1" y2="434.14" stroke="#4a4a55" stroke-width="0.95" stroke-dasharray="2.95,1.34"/>
<line x1="425.6" y1="355.96" x2="425.6" y2="434.14" stroke="#4a4a55" stroke-width="0.95" stroke-dasharray="2.95,1.34"/>
<line x1="454.5" y1="355.96" x2="454.5" y2="434.14" stroke="#4a4a55" stroke-width="0.95" stroke-dasharray="2.95,1.34"/>
<line x1="484.0" y1="355.96" x2="484.0" y2="434.14" stroke="#4a4a55" stroke-width="0.95" stroke-dasharray="2.95,1.34"/>
<line x1="380.8" y1="434.14" x2="380.8" y2="436.94" stroke="#222" stroke-width="0.8"/>
<text x="380.80" y="445.34" font-size="5.95" text-anchor="middle" fill="#2a2a2a" style="" stroke="#2a2a2a" stroke-width="0.12">Pat24*</text>
<text x="380.80" y="452.94" font-size="5.95" text-anchor="middle" fill="#2a2a2a" style="" stroke="#2a2a2a" stroke-width="0.12">index</text>
<line x1="411.2" y1="434.14" x2="411.2" y2="436.94" stroke="#222" stroke-width="0.8"/>
<text x="411.20" y="445.34" font-size="5.95" text-anchor="middle" fill="#2a2a2a" style="" stroke="#2a2a2a" stroke-width="0.12">Pat25</text>
<text x="411.20" y="452.94" font-size="5.95" text-anchor="middle" fill="#2a2a2a" style="" stroke="#2a2a2a" stroke-width="0.12">carrier</text>
<line x1="440" y1="434.14" x2="440" y2="436.94" stroke="#222" stroke-width="0.8"/>
<text x="440.00" y="445.34" font-size="5.95" text-anchor="middle" fill="#2a2a2a" style="" stroke="#2a2a2a" stroke-width="0.12">Pat26</text>
<text x="440.00" y="452.94" font-size="5.95" text-anchor="middle" fill="#2a2a2a" style="" stroke="#2a2a2a" stroke-width="0.12">WT</text>
<line x1="469.2" y1="434.14" x2="469.2" y2="436.94" stroke="#222" stroke-width="0.8"/>
<text x="469.20" y="445.34" font-size="5.95" text-anchor="middle" fill="#2a2a2a" style="" stroke="#2a2a2a" stroke-width="0.12">Pat27</text>
<text x="469.20" y="452.94" font-size="5.95" text-anchor="middle" fill="#2a2a2a" style="" stroke="#2a2a2a" stroke-width="0.12">carrier</text>
<line x1="498.8" y1="434.14" x2="498.8" y2="436.94" stroke="#222" stroke-width="0.8"/>
<text x="498.80" y="445.34" font-size="5.95" text-anchor="middle" fill="#2a2a2a" style="" stroke="#2a2a2a" stroke-width="0.12">CCF</text>
<text x="498.80" y="452.94" font-size="5.95" text-anchor="middle" fill="#2a2a2a" style="" stroke="#2a2a2a" stroke-width="0.12">± SD</text>
<rect x="369.48" y="392.97" width="2.94" height="4.33" fill="url(#rup)"/>
<rect x="369.48" y="391.13" width="2.94" height="1.11" fill="#d9eeea"/>
<rect x="373.68" y="394.91" width="2.94" height="1.29" fill="#1b93aa"/>
<rect x="373.68" y="396.84" width="2.94" height="0.50" fill="#12121a"/>
<rect x="373.68" y="398.22" width="2.94" height="9.95" fill="url(#rdn)"/>
<rect x="373.68" y="408.17" width="2.94" height="1.84" fill="#f6d4d7"/>
<rect x="377.88" y="397.30" width="2.94" height="0.92" fill="#12121a"/>
<rect x="377.88" y="398.22" width="2.94" height="7.46" fill="url(#rdn)"/>
<rect x="377.88" y="405.68" width="2.94" height="2.49" fill="#f6d4d7"/>
<rect x="382.08" y="394.91" width="2.94" height="2.39" fill="#cf1b24"/>
<rect x="386.28" y="397.30" width="2.94" height="1.84" fill="#12121a"/>
<rect x="386.28" y="399.14" width="2.94" height="3.96" fill="url(#rdn)"/>
<rect x="386.28" y="403.10" width="2.94" height="3.87" fill="#f6d4d7"/>
<rect x="390.48" y="397.30" width="2.94" height="0.92" fill="#f6d4d7"/>
<rect x="398.93" y="392.97" width="2.94" height="4.33" fill="url(#rup)"/>
<rect x="398.93" y="391.68" width="2.94" height="1.29" fill="#f6d4d7"/>
<rect x="403.13" y="394.26" width="2.94" height="1.29" fill="#1b93aa"/>
<rect x="403.13" y="397.30" width="2.94" height="3.32" fill="#cf1b24"/>
<rect x="407.33" y="395.55" width="2.94" height="1.75" fill="#cf1b24"/>
<rect x="411.53" y="388.55" width="2.94" height="8.75" fill="url(#rup)"/>
<rect x="411.53" y="387.26" width="2.94" height="1.29" fill="#f6d4d7"/>
<rect x="415.73" y="397.30" width="2.94" height="4.61" fill="#12121a"/>
<rect x="415.73" y="401.91" width="2.94" height="1.84" fill="#f6d4d7"/>
<rect x="419.93" y="391.13" width="2.94" height="6.17" fill="url(#rup)"/>
<rect x="427.98" y="396.38" width="2.94" height="0.92" fill="#a50d1a"/>
<rect x="427.98" y="393.34" width="2.94" height="3.04" fill="#cf1b24"/>
<rect x="427.98" y="398.68" width="2.94" height="0.74" fill="#d9eeea"/>
<rect x="432.18" y="396.19" width="2.94" height="1.11" fill="#12121a"/>
<rect x="432.18" y="391.13" width="2.94" height="5.07" fill="#80808a"/>
<rect x="432.18" y="388.55" width="2.94" height="1.29" fill="#1b93aa"/>
<rect x="436.38" y="394.26" width="2.94" height="3.04" fill="#cf1b24"/>
<rect x="440.58" y="392.42" width="2.94" height="4.88" fill="url(#rup)"/>
<rect x="444.78" y="391.68" width="2.94" height="5.62" fill="url(#rup)"/>
<rect x="444.78" y="390.48" width="2.94" height="1.20" fill="#f6d4d7"/>
<rect x="444.78" y="397.30" width="2.94" height="2.67" fill="#12121a"/>
<rect x="448.98" y="397.30" width="2.94" height="0.92" fill="#12121a"/>
<rect x="457.38" y="393.34" width="2.94" height="3.96" fill="url(#rup)"/>
<rect x="461.58" y="395.55" width="2.94" height="1.75" fill="#12121a"/>
<rect x="461.58" y="389.20" width="2.94" height="6.35" fill="#80808a"/>
<rect x="461.58" y="384.68" width="2.94" height="1.93" fill="#1b93aa"/>
<rect x="465.78" y="395.46" width="2.94" height="1.84" fill="#a50d1a"/>
<rect x="465.78" y="387.26" width="2.94" height="8.20" fill="url(#rup)"/>
<rect x="469.98" y="392.97" width="2.94" height="4.33" fill="#12121a"/>
<rect x="469.98" y="392.42" width="2.94" height="0.55" fill="#80808a"/>
<rect x="469.98" y="378.97" width="2.94" height="13.45" fill="url(#rup)"/>
<rect x="469.98" y="376.49" width="2.94" height="2.49" fill="#f6d4d7"/>
<rect x="474.18" y="397.30" width="2.94" height="2.12" fill="#12121a"/>
<rect x="474.18" y="399.42" width="2.94" height="3.68" fill="url(#rdn)"/>
<rect x="474.18" y="403.10" width="2.94" height="5.07" fill="#f6d4d7"/>
<rect x="478.38" y="397.30" width="2.94" height="0.92" fill="#12121a"/>
<rect x="478.38" y="398.22" width="2.94" height="0.92" fill="#d9eeea"/>
<rect x="487.60" y="395.50" width="1.2" height="1.80" fill="#5e5050"/>
<rect x="491.80" y="395.50" width="1.2" height="1.80" fill="#5e5050"/>
<rect x="496.00" y="396.40" width="1.2" height="0.90" fill="#5e5050"/>
<rect x="500.20" y="394.30" width="1.2" height="3.00" fill="#5e5050"/>
<rect x="504.40" y="394.00" width="1.2" height="3.30" fill="#5e5050"/>
<rect x="508.60" y="395.10" width="1.2" height="2.20" fill="#5e5050"/>
<line x1="368.2" y1="397.30" x2="512" y2="397.30" stroke="#111" stroke-width="1"/>
<text x="92.60" y="471.90" font-size="10.4" text-anchor="start" fill="#000" style="font-weight:bold;" stroke="#000" stroke-width="0.25">I</text>
<text x="189.20" y="483.00" font-size="7.1" text-anchor="middle" fill="#222" style="font-style:italic;" >δSPD and HSP-1 (family 10)</text>
<line x1="126.2" y1="496.8" x2="152.3" y2="496.8" stroke="#333" stroke-width="0.9"/>
<path d="M151.8,495.3 L154.8,496.8 L151.8,498.3 Z" fill="#111"/>
<rect x="126.5" y="499.90" width="28.10" height="8.30" fill="#fff" stroke="#8a8a8a" stroke-width="0.9"/>
<text transform="translate(127.80,506.50) scale(0.65,1)" font-size="6.8" fill="#333" stroke="#333" stroke-width="0.15">S</text>
<text transform="translate(132.23,506.50) scale(0.65,1)" font-size="6.8" fill="#333" stroke="#333" stroke-width="0.15">S</text>
<text transform="translate(136.66,506.50) scale(0.65,1)" font-size="6.8" fill="#333" stroke="#333" stroke-width="0.15">S</text>
<text transform="translate(141.09,506.50) scale(0.65,1)" font-size="6.8" fill="#333" stroke="#333" stroke-width="0.15">S</text>
<text transform="translate(145.52,506.50) scale(0.65,1)" font-size="6.8" fill="#333" stroke="#333" stroke-width="0.15">S</text>
<text transform="translate(149.95,506.50) scale(0.65,1)" font-size="6.8" fill="#333" stroke="#333" stroke-width="0.15">S</text>
<line x1="127.2" y1="510.86" x2="127.2" y2="591.54" stroke="#222" stroke-width="1"/>
<line x1="124.0" y1="513.86" x2="127.2" y2="513.86" stroke="#222" stroke-width="0.9"/>
<text x="121.80" y="516.01" font-size="6.0" text-anchor="end" fill="#222" style="" stroke="#222" stroke-width="0.1">40</text>
<line x1="124.0" y1="533.28" x2="127.2" y2="533.28" stroke="#222" stroke-width="0.9"/>
<text x="121.80" y="535.43" font-size="6.0" text-anchor="end" fill="#222" style="" stroke="#222" stroke-width="0.1">20</text>
<line x1="124.0" y1="552.70" x2="127.2" y2="552.70" stroke="#222" stroke-width="0.9"/>
<text x="121.80" y="554.85" font-size="6.0" text-anchor="end" fill="#222" style="" stroke="#222" stroke-width="0.1">0</text>
<line x1="124.0" y1="572.12" x2="127.2" y2="572.12" stroke="#222" stroke-width="0.9"/>
<text x="121.80" y="574.27" font-size="6.0" text-anchor="end" fill="#222" style="" stroke="#222" stroke-width="0.1">−20</text>
<line x1="124.0" y1="591.54" x2="127.2" y2="591.54" stroke="#222" stroke-width="0.9"/>
<text x="121.80" y="593.69" font-size="6.0" text-anchor="end" fill="#222" style="" stroke="#222" stroke-width="0.1">−40</text>
<text x="0" y="0" font-size="7.2" text-anchor="middle" fill="#222" stroke="#222" stroke-width="0.28" transform="translate(105.70,551.30) rotate(-90)" textLength="48.6" lengthAdjust="spacingAndGlyphs">Cumulative effect</text>
<line x1="126.7" y1="591.54" x2="253" y2="591.54" stroke="#222" stroke-width="1"/>
<line x1="158.3" y1="509.36" x2="158.3" y2="591.54" stroke="#4a4a55" stroke-width="0.95" stroke-dasharray="3.11,1.41"/>
<line x1="191.3" y1="509.36" x2="191.3" y2="591.54" stroke="#4a4a55" stroke-width="0.95" stroke-dasharray="3.11,1.41"/>
<line x1="223.6" y1="509.36" x2="223.6" y2="591.54" stroke="#4a4a55" stroke-width="0.95" stroke-dasharray="3.11,1.41"/>
<line x1="141.5" y1="591.54" x2="141.5" y2="594.34" stroke="#222" stroke-width="0.8"/>
<text x="141.50" y="602.74" font-size="5.95" text-anchor="middle" fill="#2a2a2a" style="" stroke="#2a2a2a" stroke-width="0.12">Pat28*</text>
<text x="141.50" y="610.34" font-size="5.95" text-anchor="middle" fill="#2a2a2a" style="" stroke="#2a2a2a" stroke-width="0.12">index</text>
<line x1="173.5" y1="591.54" x2="173.5" y2="594.34" stroke="#222" stroke-width="0.8"/>
<text x="173.50" y="602.74" font-size="5.95" text-anchor="middle" fill="#2a2a2a" style="" stroke="#2a2a2a" stroke-width="0.12">Pat29*</text>
<text x="173.50" y="610.34" font-size="5.95" text-anchor="middle" fill="#2a2a2a" style="" stroke="#2a2a2a" stroke-width="0.12">index</text>
<line x1="207" y1="591.54" x2="207" y2="594.34" stroke="#222" stroke-width="0.8"/>
<text x="207.00" y="602.74" font-size="5.95" text-anchor="middle" fill="#2a2a2a" style="" stroke="#2a2a2a" stroke-width="0.12">Pat30</text>
<text x="207.00" y="610.34" font-size="5.95" text-anchor="middle" fill="#2a2a2a" style="" stroke="#2a2a2a" stroke-width="0.12">carrier</text>
<line x1="237.7" y1="591.54" x2="237.7" y2="594.34" stroke="#222" stroke-width="0.8"/>
<text x="237.70" y="602.74" font-size="5.95" text-anchor="middle" fill="#2a2a2a" style="" stroke="#2a2a2a" stroke-width="0.12">CCF</text>
<text x="237.70" y="610.34" font-size="5.95" text-anchor="middle" fill="#2a2a2a" style="" stroke="#2a2a2a" stroke-width="0.12">± SD</text>
<rect x="128.61" y="546.19" width="3.28" height="1.17" fill="#d9eeea"/>
<rect x="128.61" y="550.95" width="3.28" height="1.75" fill="#12121a"/>
<rect x="128.61" y="552.70" width="3.28" height="4.27" fill="url(#rdn)"/>
<rect x="133.29" y="544.93" width="3.28" height="1.94" fill="#1b93aa"/>
<rect x="133.29" y="552.21" width="3.28" height="0.50" fill="#12121a"/>
<rect x="133.29" y="553.67" width="3.28" height="6.70" fill="url(#rdn)"/>
<rect x="137.97" y="552.70" width="3.28" height="0.97" fill="#12121a"/>
<rect x="137.97" y="553.67" width="3.28" height="1.94" fill="#a50d1a"/>
<rect x="137.97" y="555.61" width="3.28" height="10.78" fill="url(#rdn)"/>
<rect x="137.97" y="566.39" width="3.28" height="3.79" fill="#f6d4d7"/>
<rect x="137.97" y="570.18" width="3.28" height="7.67" fill="#d9eeea"/>
<rect x="142.65" y="547.55" width="3.28" height="5.15" fill="url(#rup)"/>
<rect x="147.33" y="552.70" width="3.28" height="0.97" fill="#12121a"/>
<rect x="147.33" y="553.67" width="3.28" height="1.94" fill="#a50d1a"/>
<rect x="147.33" y="555.61" width="3.28" height="11.46" fill="url(#rdn)"/>
<rect x="147.33" y="567.07" width="3.28" height="4.08" fill="#f6d4d7"/>
<rect x="147.33" y="571.15" width="3.28" height="8.06" fill="#d9eeea"/>
<rect x="152.01" y="552.70" width="3.28" height="0.97" fill="#12121a"/>
<rect x="152.01" y="553.67" width="3.28" height="1.94" fill="#f6d4d7"/>
<rect x="161.06" y="544.93" width="3.28" height="2.62" fill="#1b93aa"/>
<rect x="161.06" y="552.70" width="3.28" height="3.59" fill="#cf1b24"/>
<rect x="165.74" y="544.93" width="3.28" height="2.62" fill="#1b93aa"/>
<rect x="165.74" y="551.73" width="3.28" height="0.97" fill="#12121a"/>
<rect x="165.74" y="552.70" width="3.28" height="1.94" fill="#a50d1a"/>
<rect x="165.74" y="554.64" width="3.28" height="17.19" fill="url(#rdn)"/>
<rect x="170.42" y="552.70" width="3.28" height="0.97" fill="#12121a"/>
<rect x="170.42" y="553.67" width="3.28" height="6.70" fill="url(#rdn)"/>
<rect x="170.42" y="560.37" width="3.28" height="9.42" fill="#d9eeea"/>
<rect x="175.10" y="552.70" width="3.28" height="6.99" fill="url(#rdn)"/>
<rect x="179.78" y="552.70" width="3.28" height="0.97" fill="#12121a"/>
<rect x="179.78" y="553.67" width="3.28" height="1.94" fill="#a50d1a"/>
<rect x="179.78" y="555.61" width="3.28" height="10.78" fill="url(#rdn)"/>
<rect x="179.78" y="566.39" width="3.28" height="3.79" fill="#f6d4d7"/>
<rect x="179.78" y="570.18" width="3.28" height="6.31" fill="#d9eeea"/>
<rect x="184.46" y="552.70" width="3.28" height="0.50" fill="#12121a"/>
<rect x="194.11" y="542.21" width="3.28" height="0.87" fill="#1b93aa"/>
<rect x="194.11" y="543.09" width="3.28" height="5.83" fill="#d9eeea"/>
<rect x="194.11" y="548.91" width="3.28" height="2.82" fill="#cf1b24"/>
<rect x="194.11" y="551.73" width="3.28" height="0.97" fill="#12121a"/>
<rect x="198.79" y="548.91" width="3.28" height="1.36" fill="#1b93aa"/>
<rect x="198.79" y="551.73" width="3.28" height="0.97" fill="#12121a"/>
<rect x="203.47" y="548.91" width="3.28" height="3.79" fill="#cf1b24"/>
<rect x="203.47" y="556.29" width="3.28" height="0.87" fill="#1b93aa"/>
<rect x="208.15" y="552.70" width="3.28" height="0.97" fill="#f6d4d7"/>
<rect x="208.15" y="553.67" width="3.28" height="6.02" fill="url(#rdn)"/>
<rect x="212.83" y="552.70" width="3.28" height="1.94" fill="#12121a"/>
<rect x="212.83" y="554.64" width="3.28" height="1.94" fill="#a50d1a"/>
<rect x="212.83" y="556.58" width="3.28" height="13.21" fill="url(#rdn)"/>
<rect x="212.83" y="569.79" width="3.28" height="2.33" fill="#f6d4d7"/>
<rect x="212.83" y="572.12" width="3.28" height="4.37" fill="#d9eeea"/>
<rect x="217.51" y="552.70" width="3.28" height="0.97" fill="#12121a"/>
<rect x="227.40" y="550.90" width="1.2" height="1.80" fill="#5e5050"/>
<rect x="232.08" y="550.90" width="1.2" height="1.80" fill="#5e5050"/>
<rect x="236.76" y="551.80" width="1.2" height="0.90" fill="#5e5050"/>
<rect x="241.44" y="549.70" width="1.2" height="3.00" fill="#5e5050"/>
<rect x="246.12" y="549.40" width="1.2" height="3.30" fill="#5e5050"/>
<rect x="250.80" y="550.50" width="1.2" height="2.20" fill="#5e5050"/>
<line x1="127.2" y1="552.70" x2="253" y2="552.70" stroke="#111" stroke-width="1"/>
<text x="283.20" y="471.80" font-size="10.4" text-anchor="start" fill="#000" style="font-weight:bold;" stroke="#000" stroke-width="0.25">J</text>
<text x="346.60" y="483.10" font-size="7.1" text-anchor="middle" fill="#222" style="font-style:italic;" >δSPD and HSP-1</text>
<text x="348.90" y="491.00" font-size="7.1" text-anchor="middle" fill="#222" style="font-style:italic;" >(family 11)</text>
<line x1="319" y1="496.6" x2="345.1" y2="496.6" stroke="#333" stroke-width="0.9"/>
<path d="M344.6,495.1 L347.6,496.6 L344.6,498.1 Z" fill="#111"/>
<rect x="319.3" y="499.70" width="28.50" height="8.30" fill="#fff" stroke="#8a8a8a" stroke-width="0.9"/>
<text transform="translate(320.60,506.30) scale(0.65,1)" font-size="6.8" fill="#333" stroke="#333" stroke-width="0.15">S</text>
<text transform="translate(325.11,506.30) scale(0.65,1)" font-size="6.8" fill="#333" stroke="#333" stroke-width="0.15">S</text>
<text transform="translate(329.62,506.30) scale(0.65,1)" font-size="6.8" fill="#333" stroke="#333" stroke-width="0.15">S</text>
<text transform="translate(334.13,506.30) scale(0.65,1)" font-size="6.8" fill="#333" stroke="#333" stroke-width="0.15">S</text>
<text transform="translate(338.64,506.30) scale(0.65,1)" font-size="6.8" fill="#333" stroke="#333" stroke-width="0.15">S</text>
<text transform="translate(343.15,506.30) scale(0.65,1)" font-size="6.8" fill="#333" stroke="#333" stroke-width="0.15">S</text>
<line x1="319.2" y1="509.56" x2="319.2" y2="590.24" stroke="#222" stroke-width="1"/>
<line x1="316.0" y1="512.56" x2="319.2" y2="512.56" stroke="#222" stroke-width="0.9"/>
<text x="313.80" y="514.71" font-size="6.0" text-anchor="end" fill="#222" style="" stroke="#222" stroke-width="0.1">40</text>
<line x1="316.0" y1="531.98" x2="319.2" y2="531.98" stroke="#222" stroke-width="0.9"/>
<text x="313.80" y="534.13" font-size="6.0" text-anchor="end" fill="#222" style="" stroke="#222" stroke-width="0.1">20</text>
<line x1="316.0" y1="551.40" x2="319.2" y2="551.40" stroke="#222" stroke-width="0.9"/>
<text x="313.80" y="553.55" font-size="6.0" text-anchor="end" fill="#222" style="" stroke="#222" stroke-width="0.1">0</text>
<line x1="316.0" y1="570.82" x2="319.2" y2="570.82" stroke="#222" stroke-width="0.9"/>
<text x="313.80" y="572.97" font-size="6.0" text-anchor="end" fill="#222" style="" stroke="#222" stroke-width="0.1">−20</text>
<line x1="316.0" y1="590.24" x2="319.2" y2="590.24" stroke="#222" stroke-width="0.9"/>
<text x="313.80" y="592.39" font-size="6.0" text-anchor="end" fill="#222" style="" stroke="#222" stroke-width="0.1">−40</text>
<text x="0" y="0" font-size="7.2" text-anchor="middle" fill="#222" stroke="#222" stroke-width="0.28" transform="translate(297.70,550.00) rotate(-90)" textLength="48.6" lengthAdjust="spacingAndGlyphs">Cumulative effect</text>
<line x1="318.7" y1="590.24" x2="377" y2="590.24" stroke="#222" stroke-width="1"/>
<line x1="348.7" y1="508.06" x2="348.7" y2="590.24" stroke="#4a4a55" stroke-width="0.95" stroke-dasharray="3.11,1.41"/>
<line x1="333.5" y1="590.24" x2="333.5" y2="593.04" stroke="#222" stroke-width="0.8"/>
<text x="333.50" y="601.44" font-size="5.95" text-anchor="middle" fill="#2a2a2a" style="" stroke="#2a2a2a" stroke-width="0.12">Pat31*</text>
<text x="333.50" y="609.04" font-size="5.95" text-anchor="middle" fill="#2a2a2a" style="" stroke="#2a2a2a" stroke-width="0.12">index</text>
<line x1="361.5" y1="590.24" x2="361.5" y2="593.04" stroke="#222" stroke-width="0.8"/>
<text x="361.50" y="601.44" font-size="5.95" text-anchor="middle" fill="#2a2a2a" style="" stroke="#2a2a2a" stroke-width="0.12">CCF</text>
<text x="361.50" y="609.04" font-size="5.95" text-anchor="middle" fill="#2a2a2a" style="" stroke="#2a2a2a" stroke-width="0.12">± SD</text>
<rect x="320.86" y="542.76" width="3.04" height="1.26" fill="#1b93aa"/>
<rect x="320.86" y="545.77" width="3.04" height="5.63" fill="url(#rup)"/>
<rect x="325.21" y="545.19" width="3.04" height="4.27" fill="#1b93aa"/>
<rect x="325.21" y="550.91" width="3.04" height="0.50" fill="#12121a"/>
<rect x="325.21" y="552.37" width="3.04" height="1.94" fill="#a50d1a"/>
<rect x="325.21" y="554.31" width="3.04" height="6.31" fill="url(#rdn)"/>
<rect x="325.21" y="560.62" width="3.04" height="1.17" fill="#f6d4d7"/>
<rect x="329.56" y="551.40" width="3.04" height="0.97" fill="#12121a"/>
<rect x="329.56" y="552.37" width="3.04" height="1.94" fill="#a50d1a"/>
<rect x="329.56" y="554.31" width="3.04" height="16.22" fill="url(#rdn)"/>
<rect x="329.56" y="570.53" width="3.04" height="3.20" fill="#f6d4d7"/>
<rect x="329.56" y="573.73" width="3.04" height="2.82" fill="#d9eeea"/>
<rect x="333.91" y="545.77" width="3.04" height="5.63" fill="url(#rup)"/>
<rect x="338.25" y="551.40" width="3.04" height="3.11" fill="#12121a"/>
<rect x="338.25" y="554.51" width="3.04" height="1.75" fill="#a50d1a"/>
<rect x="338.25" y="556.25" width="3.04" height="12.33" fill="url(#rdn)"/>
<rect x="338.25" y="568.59" width="3.04" height="4.18" fill="#f6d4d7"/>
<rect x="338.25" y="572.76" width="3.04" height="4.47" fill="#d9eeea"/>
<rect x="342.61" y="551.40" width="3.04" height="0.97" fill="#12121a"/>
<rect x="352.32" y="549.60" width="1.2" height="1.80" fill="#5e5050"/>
<rect x="356.68" y="549.60" width="1.2" height="1.80" fill="#5e5050"/>
<rect x="361.02" y="550.50" width="1.2" height="0.90" fill="#5e5050"/>
<rect x="365.38" y="548.40" width="1.2" height="3.00" fill="#5e5050"/>
<rect x="369.72" y="548.10" width="1.2" height="3.30" fill="#5e5050"/>
<rect x="374.07" y="549.20" width="1.2" height="2.20" fill="#5e5050"/>
<line x1="319.2" y1="551.40" x2="377" y2="551.40" stroke="#111" stroke-width="1"/>
<rect x="410.4" y="515.50" width="6.4" height="4.4" fill="#1a90a6"/>
<text x="419.20" y="519.80" font-size="6.1" text-anchor="start" fill="#2a2a2a" style="" stroke="#2a2a2a" stroke-width="0.12">P8</text>
<rect x="410.4" y="524.23" width="6.4" height="4.4" fill="#c4e4de"/>
<text x="419.20" y="528.53" font-size="6.1" text-anchor="start" fill="#2a2a2a" style="" stroke="#2a2a2a" stroke-width="0.12">P7</text>
<rect x="410.4" y="532.96" width="6.4" height="4.4" fill="#f5d6da"/>
<text x="419.20" y="537.26" font-size="6.1" text-anchor="start" fill="#2a2a2a" style="" stroke="#2a2a2a" stroke-width="0.12">P6</text>
<rect x="410.4" y="541.69" width="6.4" height="4.4" fill="#ef7b6f"/>
<text x="419.20" y="545.99" font-size="6.1" text-anchor="start" fill="#2a2a2a" style="" stroke="#2a2a2a" stroke-width="0.12">P5</text>
<rect x="410.4" y="550.42" width="6.4" height="4.4" fill="#e4301e"/>
<text x="419.20" y="554.72" font-size="6.1" text-anchor="start" fill="#2a2a2a" style="" stroke="#2a2a2a" stroke-width="0.12">P4</text>
<rect x="410.4" y="559.15" width="6.4" height="4.4" fill="#a50d0f"/>
<text x="419.20" y="563.45" font-size="6.1" text-anchor="start" fill="#2a2a2a" style="" stroke="#2a2a2a" stroke-width="0.12">P3</text>
<rect x="410.4" y="567.88" width="6.4" height="4.4" fill="#7c7c84"/>
<text x="419.20" y="572.18" font-size="6.1" text-anchor="start" fill="#2a2a2a" style="" stroke="#2a2a2a" stroke-width="0.12">P2</text>
<rect x="410.4" y="576.61" width="6.4" height="4.4" fill="#111111"/>
<text x="419.20" y="580.91" font-size="6.1" text-anchor="start" fill="#2a2a2a" style="" stroke="#2a2a2a" stroke-width="0.12">P1</text>
<rect x="0.5" y="0.5" width="519" height="617" fill="none" stroke="#3a3a3a" stroke-width="1"/>
</g>
</svg>
</body></html>
